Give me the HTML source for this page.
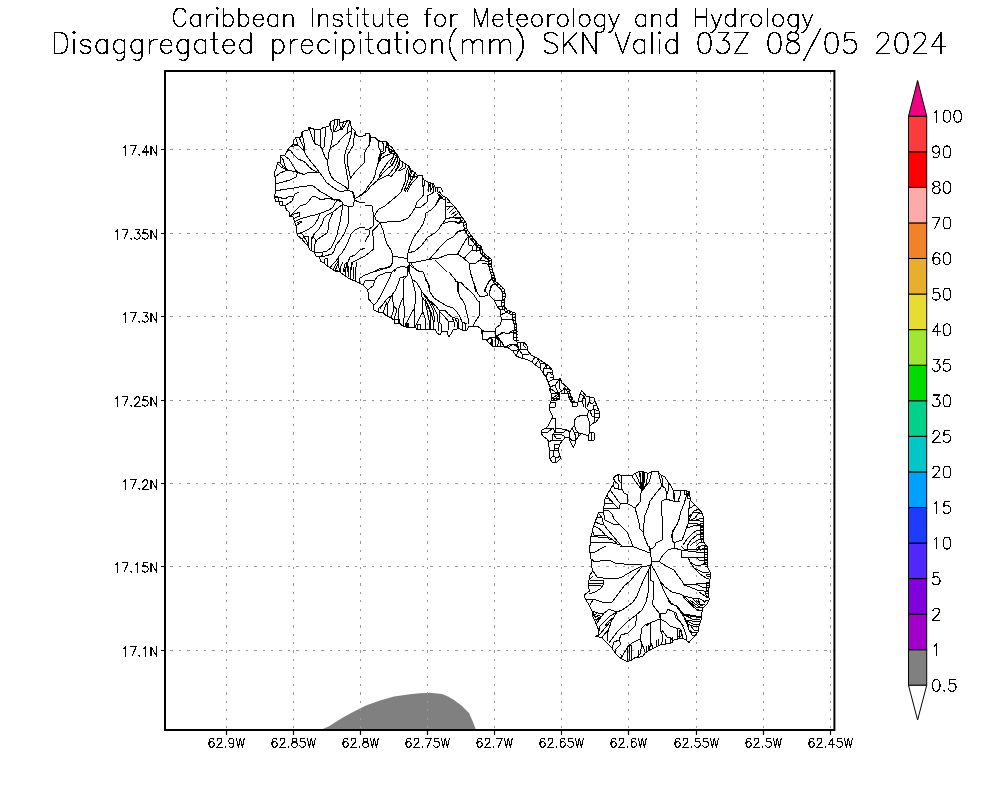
<!DOCTYPE html>
<html><head><meta charset="utf-8"><title>Disaggregated precipitation SKN</title>
<style>html,body{margin:0;padding:0;background:#fff;font-family:"Liberation Sans",sans-serif}svg{display:block}</style></head>
<body>
<svg width="1000" height="800" viewBox="0 0 1000 800">
<rect width="1000" height="800" fill="#fff"/>
<polygon points="320.5,730.0 329.0,726.3 342.0,718.0 352.0,712.5 366.0,705.5 380.0,700.6 394.0,696.6 410.0,694.2 420.0,693.3 430.0,692.8 442.0,694.0 448.0,696.5 454.0,700.0 462.0,706.0 469.0,713.0 473.0,722.0 476.0,730.0" fill="#808080"/>
<path d="M226.5 72.0V730.0M293.5 72.0V730.0M360.5 72.0V730.0M427.5 72.0V730.0M494.5 72.0V730.0M561.5 72.0V730.0M628.5 72.0V730.0M696.5 72.0V730.0M763.5 72.0V730.0M830.5 72.0V730.0" fill="none" stroke="#989898" stroke-width="1" stroke-dasharray="2.2 6.19" stroke-dashoffset="0.43" shape-rendering="crispEdges"/>
<path d="M166.0 149.5H834.4M166.0 233.5H834.4M166.0 316.5H834.4M166.0 400.5H834.4M166.0 483.5H834.4M166.0 566.5H834.4M166.0 650.5H834.4" fill="none" stroke="#989898" stroke-width="1" stroke-dasharray="2.4 5.98" stroke-dashoffset="3.9" shape-rendering="crispEdges"/>
<path d="M294.0 144.2L298.0 145.0L295.5 137.8M299.5 138.2L301.0 142.0L303.5 147.0L304.0 151.2M302.0 132.2L303.0 138.0L304.5 145.0L304.0 151.2M290.5 146.7L298.0 145.2L303.8 150.8L307.0 156.5L312.0 163.0L317.0 169.0L319.8 173.0M309.2 127.8L311.0 134.0L313.0 140.0L315.0 144.0L319.5 145.5L321.5 148.0L323.0 152.0L325.0 157.0L327.0 160.0L327.5 164.0L329.0 171.0L331.0 176.0L334.0 180.0L339.0 183.0L344.0 186.0L348.0 189.0M315.0 129.7L314.5 137.0L314.0 142.0L316.5 144.8M320.0 130.2L320.5 135.0L320.0 141.0L321.0 146.5M325.0 127.7L325.0 137.0L324.8 146.5L322.2 148.5M330.5 129.5L332.0 132.0L332.5 138.0L331.5 143.0L330.0 149.0L328.5 153.0L328.0 159.0L327.5 164.0M330.0 149.0L331.0 147.5L337.0 144.0L341.0 139.0L346.0 134.0L350.0 131.5M330.5 122.2L330.0 126.0L332.0 132.0M334.5 119.8L334.0 125.0L333.0 132.0M337.0 120.0L337.5 125.0L334.2 131.2M339.5 120.0L339.5 125.0L341.0 129.0L335.0 132.0M344.0 121.7L342.0 127.0L341.0 129.0M347.5 120.7L345.0 125.0L342.0 129.5M350.0 121.2L348.0 127.0L347.0 133.0M352.0 128.7L351.0 135.0L349.0 142.0L346.0 150.0L344.5 156.0L345.0 164.0L346.5 172.0L348.0 180.0L348.0 189.0M355.0 131.7L354.0 138.0L353.0 146.0L348.0 154.0L347.0 157.0L347.5 164.0L350.0 176.0L350.0 179.0M350.0 179.0L355.0 172.0L360.0 167.0L365.0 162.0M286.5 151.7L290.0 150.0L294.0 155.0L298.0 159.0L303.0 161.0L306.0 163.0L309.0 167.0L313.0 170.0L317.0 172.0L319.8 173.0L323.0 177.0L326.0 182.0L331.0 186.0L337.0 190.0L341.0 192.0M285.0 156.2L289.0 159.0L292.0 164.0L295.0 169.0L297.5 172.3M297.5 172.3L304.0 174.5L308.0 172.5L313.0 172.0L318.0 172.5L319.8 173.0M297.5 172.3L296.0 177.0L290.0 180.0L283.0 182.0L275.5 184.0M275.0 177.0L280.0 173.0L285.0 171.0L290.0 170.5L297.5 172.3M277.5 163.2L281.0 167.0L285.0 169.0L289.0 170.2M280.0 162.2L282.5 166.0L287.0 169.5M280.5 156.2L283.5 160.0L284.5 165.0L286.5 168.8M275.5 191.0L283.0 189.5L291.0 188.5L299.0 187.0L305.0 186.5L312.0 185.0L317.0 189.0L321.0 192.0M369.5 133.7L370.0 139.0L369.0 144.0M371.0 137.2L369.5 145.0L367.0 148.0L365.0 152.0M378.0 140.7L378.5 147.0L381.0 152.0L379.0 157.0L378.5 162.0L376.0 170.0L375.0 175.0L373.0 180.0L369.0 185.0L366.0 190.0M382.5 142.2L384.0 146.0L383.0 151.0L381.0 152.0M386.5 141.7L386.0 147.0L385.0 152.0L382.0 154.0L380.0 157.0L379.0 162.0M389.0 145.2L388.0 150.0L390.5 152.0M392.5 148.2L390.0 154.0L385.0 156.0L381.0 159.0L379.0 162.0M395.0 152.2L393.0 157.0L388.0 162.0L384.0 168.0L380.0 174.0L379.0 178.0L377.0 181.0L371.0 186.0L367.0 191.0M397.0 155.2L395.0 160.0L391.0 166.0L388.0 168.0L383.0 173.0L380.0 177.0M398.0 156.2L397.0 162.0L394.0 168.0L390.0 173.0L388.0 175.0L378.0 180.0L371.0 186.0M400.0 160.2L399.0 166.0L395.0 172.0L391.0 176.5L388.5 175.0M403.0 162.7L402.0 167.0L399.0 170.0M406.0 164.2L405.0 168.0L401.0 170.0L398.5 170.5M409.0 166.7L407.0 170.0L405.5 176.0L405.0 182.0L403.0 187.0L401.0 192.0M411.0 170.2L409.5 174.0L408.0 180.0L406.0 186.0L404.0 191.0M415.0 172.7L414.0 177.0L410.0 182.0L408.0 187.0L405.0 192.0M418.0 176.2L416.0 179.0L412.0 183.0L409.0 188.0L407.0 192.0M422.0 175.7L422.5 182.0L423.0 187.0L423.0 192.0M424.0 180.2L425.0 184.0L423.0 187.0M428.0 182.2L429.0 187.0L428.0 192.0M433.0 183.7L432.0 188.0L430.0 192.0M435.0 187.2L435.0 192.0M274.5 196.5L278.0 197.0L285.0 199.0L289.0 196.5L293.5 197.0M275.5 197.5L278.5 198.0L278.5 201.5M279.5 201.5L282.5 202.0L282.5 205.0M285.0 205.5L289.0 203.0L292.0 201.0L293.5 197.0L295.0 194.0L299.0 192.0M289.5 216.2L295.0 211.0L300.0 206.0L306.0 204.0L309.0 201.0L312.0 197.0L315.0 196.5L319.0 198.5L321.0 200.0L328.0 198.0L335.0 200.5M289.5 216.5L295.0 213.5L300.0 212.5L299.5 216.0L294.0 218.5M294.5 222.0L300.0 219.0L305.0 217.5L310.0 216.0L315.0 215.0L320.0 213.5L325.0 211.5L330.0 209.5L333.0 207.0L335.0 203.0L337.0 200.5L341.0 201.5M296.0 225.7L301.5 222.0L302.0 221.0L298.0 222.5M320.0 213.5L318.0 219.0L315.0 224.0L312.0 227.0L307.0 230.0L303.0 232.0L298.0 233.5M343.0 204.5L339.0 207.0L333.0 212.0L327.0 215.0L324.0 218.0L322.0 224.0L319.0 229.0L315.0 233.0L313.0 236.0L312.0 239.0M333.0 212.0L331.0 217.0L328.0 224.0L328.0 230.0L327.0 233.0L321.0 237.0L317.0 240.0L315.0 244.0L314.0 252.0M343.0 205.0L341.5 212.0L340.5 220.0L338.5 228.0L337.0 235.0L334.0 242.0L331.0 248.0L327.0 251.0L321.0 252.5L314.0 252.0M348.0 206.5L348.5 215.0L348.0 224.0L345.0 232.0L341.0 239.0L336.0 245.0L334.0 251.0L332.0 254.0L325.0 256.0L319.5 257.0M365.0 228.0L360.0 227.5L355.0 230.0L351.0 234.0L348.0 242.0L345.0 248.0L342.0 253.0L339.0 256.0L338.5 261.0L339.0 268.0L340.0 272.0M365.0 248.0L360.0 250.0L355.0 255.0L350.0 257.0L348.0 262.0L346.0 267.0L344.0 272.0M365.0 256.0L359.0 259.0L353.0 262.0L351.0 267.0L350.0 272.0M298.0 233.5L302.0 234.0L304.0 236.5L302.2 239.0M305.0 236.0L309.0 237.0L308.0 246.0M304.0 236.5L307.0 242.0L308.0 246.0M312.0 237.0L311.5 245.0L312.0 251.0M313.0 236.0L316.0 241.0L314.5 246.0L314.0 252.0M319.5 257.0L323.0 255.0L322.0 253.0M324.0 263.0L325.0 259.0L327.5 258.5L327.0 266.0M330.0 267.5L335.0 262.0L338.5 258.0M333.0 270.0L336.0 264.0L338.5 261.0M335.0 271.0L337.5 265.0M343.0 272.0L345.0 264.0L348.0 262.0M347.0 272.0L348.0 264.0M321.0 192.0L325.0 194.0L329.0 196.5L335.0 200.0L339.0 199.5L342.0 202.0L343.0 204.5L348.0 206.5L353.0 206.0L354.0 202.0L354.0 198.0L353.0 192.0M354.0 200.0L359.0 202.0L365.0 203.0M401.0 192.0L398.0 195.0L392.0 200.0L385.0 206.0L379.0 209.0L376.0 213.0L374.5 216.0L376.0 220.0L380.0 222.8M365.0 205.0L372.0 206.0L373.0 212.0L374.0 216.0L373.8 225.5L369.0 229.2L365.0 229.8M380.0 223.0L377.0 226.5L372.5 230.8L373.5 240.0L373.5 249.0L369.0 253.0L365.0 256.0M369.0 229.5L369.5 234.0L367.0 238.0L365.0 242.0M380.0 223.0L387.0 222.0L394.0 221.5L400.0 221.5L408.0 218.0L412.0 213.0L415.0 208.0L417.0 202.0L422.0 197.0L424.0 194.0L423.0 192.0M415.0 208.0L421.0 207.0L427.0 202.0L427.5 196.0L431.0 194.0L434.0 192.0M380.0 223.0L383.0 230.0L385.0 238.0L387.0 244.0L391.0 250.0L393.0 256.0L398.0 257.0L407.0 258.5M393.0 256.0L392.5 262.0L390.0 267.0L383.0 269.0L377.0 271.0L374.0 272.0M407.5 258.5L408.0 253.0L410.0 246.0L413.0 239.0L416.0 234.0L420.0 229.0L423.0 224.0L425.0 218.0L426.0 213.0L431.0 210.0L435.0 206.0L439.0 200.0L442.0 196.0M408.0 253.0L415.0 251.0L421.0 246.0L425.0 241.0L428.0 237.0L435.0 233.0L439.0 229.0L442.0 224.0L448.0 222.0L455.0 221.0M407.5 258.5L408.0 262.0L411.0 263.0L421.0 261.0L429.0 259.5L435.0 253.0L441.0 246.0L447.0 240.0L453.0 237.0L458.0 232.0L463.0 230.0L465.0 229.0M429.0 259.5L439.0 258.0L448.0 254.5L457.5 254.0L461.0 248.0L465.0 241.0M457.5 254.0L461.0 256.5L465.0 258.0M435.0 260.0L440.0 265.0L445.0 270.0L447.0 272.0M411.0 263.0L414.0 268.0L419.0 271.0M410.0 263.0L408.0 268.0L408.0 272.0M407.0 268.0L403.0 266.0L397.0 268.0L394.0 272.0M445.0 198.0L445.0 204.0L445.0 212.0L446.0 219.0L442.0 224.0L441.0 226.0M446.0 219.0L453.0 217.0L461.0 218.0M447.0 210.0L451.0 206.0M449.0 213.0L454.0 208.0M451.0 215.0L456.0 211.0M453.0 217.0L458.0 213.0M447.0 202.0L450.0 202.5M446.0 206.0L453.0 207.0M455.0 221.0L459.0 224.0L461.0 219.0M435.0 206.0L437.0 202.0L440.0 197.0L439.5 195.0M467.0 230.0L459.0 231.0L455.0 234.0M468.0 237.0L465.0 241.0L461.0 248.0L458.0 254.0L455.0 254.5M458.0 254.0L464.0 258.5L469.0 263.0L476.0 263.0L480.0 260.0M464.0 258.5L468.0 254.0L472.0 250.0L477.0 251.0L481.0 250.0M469.0 263.0L470.0 270.0L472.0 277.0L474.0 284.0L475.5 292.0M493.0 278.0L489.0 282.0L486.0 287.0L484.0 292.0M495.0 284.0L492.0 285.0L490.0 290.0L489.5 292.0M455.0 281.0L458.0 282.0L461.0 283.0L465.0 287.0L470.0 291.0M458.0 282.0L458.0 292.0M468.0 237.0L469.0 245.0L472.0 246.0L472.0 251.0M470.0 239.0L475.0 240.0L477.0 245.0L476.0 252.0M472.0 247.0L476.0 243.0M480.0 246.0L481.0 250.0M483.0 252.0L482.0 257.0L480.0 260.0L485.0 261.0L490.0 261.0M484.0 256.0L489.0 259.0M482.0 263.0L487.0 264.0L491.0 264.0M455.0 218.0L460.0 219.0L462.0 217.0M455.0 222.0L461.0 222.0L465.0 223.0M359.0 283.0L360.0 278.0L365.0 275.0L373.0 272.0L379.0 269.0L385.0 268.0L391.0 266.0L393.0 262.0M363.0 285.0L365.0 281.0L370.0 280.0L375.0 280.0L378.0 276.0L385.0 273.0L392.0 272.0L397.0 268.0L403.0 266.0L407.0 268.0L409.0 265.0M375.0 280.0L373.0 286.0L369.0 289.0L367.0 289.0M392.0 272.0L389.0 279.0L385.0 287.0L381.0 295.0L377.0 302.0L374.0 305.0M407.0 268.0L407.0 276.0L400.0 278.0L398.0 284.0L395.0 291.0L392.0 295.0L387.0 299.0L383.0 304.0L380.0 309.0M392.0 295.0L393.0 302.0L394.0 306.0L397.0 310.0L395.0 316.0L394.0 320.0M407.0 276.0L404.0 279.0L403.5 288.0L403.0 298.0L401.0 302.0L399.0 308.0L398.5 318.0L399.0 323.0M403.0 298.0L404.0 306.0L404.0 318.0L403.0 326.0M409.0 265.0L409.0 271.0L412.0 279.0L414.0 287.0L416.0 295.0L415.5 302.0L414.0 309.0L411.0 314.0L407.0 322.0L405.0 326.0M414.0 309.0L414.0 318.0L415.0 327.0M412.0 279.0L417.0 283.0L421.0 290.0L422.0 297.0L422.0 305.0L423.0 312.0L420.0 317.0L417.0 323.0L415.0 327.0M423.0 312.0L425.0 318.0L425.0 329.0M409.0 265.0L414.0 268.0L418.0 271.0L423.0 272.0L426.0 279.0L429.0 285.0L430.0 292.0L433.0 297.0L435.0 299.0M422.0 292.0L426.0 297.0L430.0 302.0L435.0 306.0M422.0 297.0L427.0 304.0L430.0 312.0L431.0 322.0L430.0 329.0M424.0 295.0L429.0 302.0L433.0 310.0L435.0 322.0M378.0 312.0L379.0 308.0L382.0 305.0M383.0 313.0L385.0 307.0L387.0 302.0M387.0 316.0L387.0 310.0L388.0 303.0L392.0 295.0M391.0 318.0L393.0 312.0L394.0 306.0M340.0 272.0L341.0 266.0L343.0 262.0M345.0 276.0L346.0 268.0L348.0 262.0M350.0 279.0L351.0 270.0L352.0 262.0M355.0 281.0L355.0 272.0L357.0 262.0M348.0 277.0L349.0 266.0M353.0 280.0L353.5 268.0M394.0 319.0L399.0 319.0L399.0 323.0M405.0 323.0L408.0 323.0L408.0 327.0M406.0 323.5L406.0 327.0M407.0 323.5L407.0 327.0M416.0 324.0L420.0 324.0L420.0 329.0M417.0 325.0L417.0 329.0M449.0 272.0L453.0 277.0L457.0 282.0L461.0 282.0L465.0 287.0L469.0 290.0L474.0 295.0L477.0 300.0L479.5 302.0L480.0 310.0L479.5 315.0L477.0 319.0L474.0 324.0L473.0 326.0M458.0 282.0L457.5 290.0L460.0 297.0L463.0 301.0L465.0 305.0L466.5 312.0L468.0 318.0L469.0 324.0M470.0 272.0L472.0 278.0L475.0 286.0L477.0 292.0L480.0 297.0L485.0 296.0L488.0 295.0L485.0 290.0L487.0 285.0L490.0 280.0L494.0 278.0M489.0 295.0L491.0 286.0L494.0 284.0L498.0 284.5M489.0 295.0L494.0 300.0L497.0 306.0L500.0 310.0L500.0 315.0L502.0 319.0L500.0 325.0L496.0 328.0L495.0 334.0L497.0 336.0L503.0 332.0L507.0 334.0L512.0 331.0L516.0 329.0M495.0 301.0L499.0 300.5L504.0 300.0M497.0 306.0L504.0 306.0M500.0 315.0L505.0 313.0L508.0 311.0M502.0 319.0L514.0 319.0M500.0 310.0L504.0 309.0M495.0 332.0L484.0 331.0L482.0 330.0M495.0 334.0L495.0 347.0M497.0 336.0L500.0 340.0L504.0 346.0M495.0 337.0L489.0 338.0L487.0 341.0M491.0 338.0L492.0 345.0M499.0 341.0L497.0 346.5M505.0 347.5L509.0 345.0L513.0 344.0L516.0 346.0L518.0 342.0M425.0 279.0L428.0 284.0L430.0 292.0L434.0 298.0L440.0 302.0L447.0 306.0L453.0 308.0L457.0 312.0L460.0 317.0L462.0 322.0L467.0 324.0M425.0 295.0L429.0 300.0L435.0 305.0L439.0 310.0L445.0 310.0L448.0 314.0L452.0 317.0L458.0 319.0L459.0 328.0M425.0 299.0L428.0 305.0L431.0 312.0L433.0 320.0L433.0 329.0M425.0 302.0L427.0 310.0L429.0 320.0L429.0 329.0M430.0 301.0L434.0 308.0L437.0 314.0L438.0 322.0L438.0 331.0M439.0 310.0L439.0 322.0L441.0 324.0L441.5 331.0M440.0 312.0L445.0 317.0L448.0 321.0L448.0 330.0M452.0 317.0L454.0 322.0L454.0 327.0M455.0 319.0L457.0 322.0L457.0 328.0M448.0 321.0L453.0 321.0M462.0 322.0L462.0 330.0M465.0 324.0L465.0 330.0M481.0 332.0L488.0 331.5L495.0 332.0L496.0 328.0L500.0 325.0M495.0 332.0L495.0 337.0L495.0 347.0M495.0 337.0L504.0 332.5L507.0 334.0L513.0 332.0L516.0 332.0M486.0 340.0L491.0 338.0L495.0 337.0M490.0 344.0L493.0 339.0M492.0 339.0L492.0 345.0M495.0 337.0L499.0 340.0L502.0 342.0L504.0 346.0M499.0 340.0L497.5 346.5M501.0 342.0L500.0 346.5M508.0 348.0L512.0 344.5L515.0 344.0L519.0 349.0L517.0 342.0M513.0 351.0L519.0 349.5L524.0 349.0L527.0 349.0M519.0 349.5L522.0 354.0L523.0 358.5M516.0 356.0L519.0 349.5M522.0 354.0L529.0 355.0M524.0 342.0L523.0 345.0L526.0 348.0M520.0 343.0L520.0 349.0M532.0 362.0L535.0 357.0M535.0 365.0L539.0 359.5M537.0 358.0L540.0 363.0L540.0 368.0M540.0 363.0L545.0 363.5L547.0 369.0M543.0 373.0L544.0 368.0L547.0 365.0M544.0 368.0L550.0 369.0L552.0 370.0M546.0 377.0L548.0 372.0L553.0 375.0M548.0 382.0L554.0 379.0M550.0 387.0L555.0 385.0L559.0 380.0M551.0 393.0L558.0 393.0L562.0 391.0L566.0 386.0M555.0 385.0L558.0 393.0M559.0 380.0L560.0 389.0L562.0 391.0M558.0 393.0L560.0 399.0L552.0 398.0M552.0 401.0L560.0 395.0M516.0 331.0L518.0 331.0M516.0 334.0L518.0 334.5M516.0 337.0L518.0 337.5M516.5 340.0L519.0 340.5M549.0 372.0L553.0 373.0M550.0 377.0L554.0 377.0M565.0 389.0L570.0 390.0M567.0 393.0L571.0 394.0M568.0 397.0L572.5 398.0M549.0 388.0L551.0 393.0L552.0 398.0L550.5 402.0L549.0 407.0L550.0 411.0L552.0 415.0L552.0 418.0L550.0 422.0L548.0 426.0L546.0 428.0L542.0 430.0L541.5 434.0L544.0 437.0L547.0 439.0L549.0 442.0L548.5 446.0L550.0 450.0L549.0 455.0L550.0 459.0L552.0 462.0L557.0 462.0L560.0 459.0L560.0 456.0L558.5 452.0L559.0 447.0L560.0 444.0L562.0 441.0L564.0 439.0L565.0 437.0L569.0 437.0L570.0 441.0L572.0 445.0L573.5 447.5L575.0 444.0L576.0 440.0L579.0 436.0L581.0 433.5L585.0 434.5L588.0 436.0L588.0 440.0L594.0 440.0L595.0 436.0L594.0 433.0L590.0 432.0L589.5 426.0L592.0 424.0L596.0 422.0L599.0 418.0L600.0 415.0L599.0 411.0L597.0 406.0L595.0 401.0L594.0 398.0L590.0 397.0L586.0 396.0L583.0 392.0L581.5 390.5L580.0 394.0L579.0 398.0L578.0 402.0L577.5 406.0L573.0 406.5L572.5 402.0L571.0 398.0L570.0 394.0L569.0 390.0L568.0 388.0M552.0 418.0L555.0 418.0L555.0 432.0M555.0 428.0L562.0 429.0L567.0 430.0L570.0 432.0L572.0 428.0L574.5 426.0L574.5 420.0L577.0 417.0L582.0 415.0L587.0 415.0L589.0 411.0L594.0 409.5L599.0 411.0M587.0 415.0L589.0 421.0L589.5 426.0M574.5 426.0L576.0 430.0L579.0 433.0L581.0 433.5M570.0 432.0L569.0 437.0M572.0 428.0L574.0 432.0L576.0 437.0L575.0 444.0M574.0 432.0L578.0 432.0L579.0 436.0M569.0 437.0L572.0 441.0L575.0 440.0M546.0 428.0L553.0 428.0L555.0 432.0L553.0 434.0L552.0 440.0L549.0 442.0M553.0 434.0L560.0 434.0L564.0 436.0L565.0 437.0M555.0 432.0L562.0 433.0L567.0 430.0M552.0 440.0L560.0 440.0L562.0 441.0M541.5 432.0L548.0 432.0L553.0 428.0M554.0 435.0L556.0 438.0L561.0 439.0M554.0 444.0L554.0 450.0L559.0 451.0M554.0 444.0L560.0 444.0M550.0 450.0L554.0 450.0L553.0 456.0L550.0 459.0M555.0 448.0L559.0 448.0M553.0 456.0L557.0 458.0L560.0 456.0M555.0 458.0L555.0 462.0M551.0 393.0L559.0 393.0L560.0 398.0L552.0 398.0M550.0 388.0L555.0 392.0L559.0 393.0M552.0 398.0L559.0 394.0M553.0 401.0L560.0 399.0M550.5 402.0L555.0 402.0L555.0 407.0L549.0 407.0M564.0 388.0L564.0 393.0L569.0 393.0M561.0 393.0L564.0 393.0M572.5 402.0L577.5 402.0M580.0 394.0L584.0 396.0L582.0 401.0L579.0 402.0M584.0 396.0L586.0 401.0L585.0 407.0L589.0 411.0M582.0 401.0L584.0 406.5M590.0 397.0L589.0 402.0L592.0 404.0L595.0 401.0M589.0 402.0L587.0 407.0M594.0 409.5L593.0 405.0L597.0 406.0M594.0 409.5L594.0 422.0L592.0 424.0M594.0 413.0L599.0 413.0M594.0 417.0L599.0 418.0M590.0 411.0L592.0 416.0L594.0 417.0M588.0 436.0L590.0 432.0M591.0 433.0L591.0 440.0M619.0 474.5L618.5 480.0L621.0 483.0L621.5 475.5M614.5 481.0L618.0 484.0L618.0 489.0L622.0 489.5L621.0 483.0M613.0 485.0L614.5 488.0L618.0 489.0M622.0 489.5L624.0 493.0L627.5 495.0L627.5 503.5L621.0 504.0L618.0 501.0L614.0 495.0L610.0 490.0M627.5 503.5L635.0 508.0L640.0 502.0L640.0 495.0L642.0 491.0M642.0 491.0L639.0 486.0L635.0 481.0L632.0 476.0M642.0 491.0L640.0 484.0L637.0 477.0L635.5 473.5M642.0 491.0L641.0 482.0L639.0 472.0M642.0 491.0L642.5 481.0L642.0 472.0M642.0 491.0L644.0 483.0L645.0 473.0M642.0 491.0L646.0 484.0L648.0 474.0M642.0 491.0L649.0 482.0L652.0 472.0M640.5 486.0L640.0 473.0M643.2 486.0L643.5 473.0M658.0 471.5L660.0 479.0L662.0 486.0L657.0 492.0L654.0 496.0L650.0 501.0L648.0 508.0L645.0 515.0L644.0 523.0L643.0 530.0L644.0 536.0L646.0 541.0L648.0 546.0M661.0 475.0L663.0 481.0L662.0 486.0M635.0 508.0L637.0 515.0L639.0 523.0L640.0 529.0L643.0 532.0M662.0 486.0L665.0 488.0L667.0 494.0L666.0 499.0L662.0 501.0L661.0 508.0L662.0 516.0L663.0 522.0L662.0 528.0L663.0 534.0L662.0 540.0L656.0 543.0L655.0 546.0M666.0 499.0L673.0 501.0L680.0 502.0M668.0 482.0L668.0 491.0L667.0 494.0M673.0 490.0L674.0 499.0M680.0 515.0L679.0 520.0L676.0 526.0L672.0 534.0L672.0 540.0L674.0 543.0L675.0 546.0M605.0 499.0L609.0 498.0L614.0 504.0L619.0 509.0L619.5 506.0L621.0 504.0M604.5 504.0L611.0 503.5L614.0 504.0M603.5 508.0L610.0 508.0L619.0 509.0M607.0 495.0L610.0 501.0M603.5 512.0L605.0 520.0L613.0 524.0L620.0 525.0L622.0 527.0L627.0 532.0L630.0 539.0L633.0 546.0M603.5 510.0L609.0 511.0L612.0 514.0L614.0 519.0L618.0 523.0L622.0 527.0M598.5 513.0L602.0 518.0L604.0 525.0L608.0 530.0L613.0 536.0L618.0 542.0L622.0 546.0M595.0 522.0L600.0 524.0L604.0 525.0M593.5 526.0L598.0 528.0L602.0 531.0L605.0 535.0L610.0 538.0L617.0 543.0M592.5 531.0L594.0 535.0L605.0 536.0M591.0 536.0L598.0 537.0L606.0 537.0L611.0 540.0M590.0 542.0L596.0 543.0L603.0 542.0L610.0 542.0L620.0 545.0M597.0 517.0L602.0 518.0M673.5 490.5L674.5 496.0L674.0 501.0L678.0 501.0L680.0 496.0L681.0 491.0M687.0 491.0L686.0 497.0L684.0 504.0L681.0 511.0L679.0 519.0L677.0 525.0L673.0 530.0L671.5 536.0L673.0 541.0L675.0 545.0M690.0 501.0L689.0 508.0L688.0 516.0L688.5 523.0L686.0 529.0L684.0 535.0L682.0 540.0L675.0 542.5M695.0 505.0L690.0 508.0L689.0 508.0M699.0 509.0L694.0 511.0L691.0 516.0L689.0 520.0M702.0 513.0L698.0 514.0L695.0 518.0L690.0 520.5M703.5 518.0L699.0 519.0L696.0 520.0M689.0 520.0L696.0 520.0L700.0 521.0L703.5 521.0M689.0 523.0L696.0 523.5L703.0 526.0M703.0 530.0L697.0 530.0L692.0 534.0L687.0 539.0L683.0 545.0M703.0 534.0L697.0 535.0L691.0 540.0L687.0 546.0M703.0 538.0L698.0 540.0L693.0 543.0L690.0 546.0M704.0 542.0L699.0 543.0L696.0 546.0M687.0 494.0L690.0 494.5M684.0 491.0L684.0 494.0L687.0 494.5M700.0 527.0L703.0 527.0M700.0 532.0L703.0 532.0M700.0 536.0L703.0 536.0M649.0 546.0L650.0 551.0L651.0 557.0L652.0 562.0M620.0 546.0L634.0 547.0L642.0 550.0L650.0 553.0M652.0 562.0L659.0 561.5L663.0 555.0L668.0 550.0L674.0 548.0L680.0 550.0M659.0 561.5L666.0 566.0L674.0 570.0L678.0 576.0L680.0 578.0M652.0 566.0L656.0 573.0L660.0 581.0L665.0 587.0L672.0 592.0L680.0 594.0M660.0 581.0L663.0 589.0L667.0 597.0L671.0 603.0L676.0 606.0L680.0 611.0M652.0 562.0L650.0 567.0L650.0 580.0L653.5 582.0L654.0 596.0L652.0 604.0L656.0 609.0L659.0 613.0L660.0 618.0L660.0 626.0M660.0 614.0L666.0 613.0L668.0 609.0L674.0 612.0L676.0 618.0L680.0 622.0M660.0 619.0L666.0 622.0L670.0 626.0M660.0 619.0L652.0 622.0L646.0 626.0M649.0 571.0L648.0 581.0L648.0 593.0L646.0 602.0L642.0 610.0L636.0 615.0L627.0 622.0L623.0 626.0M650.0 567.0L644.0 579.0L640.0 588.0L637.0 596.0L633.0 602.0L628.0 606.0L622.0 610.0L617.0 612.0L609.0 609.5L604.0 613.0L597.0 623.0M652.0 565.0L642.0 567.0L636.0 574.0L630.0 581.0L624.0 586.0L619.0 593.0L612.0 602.0L603.0 602.5L596.0 600.0L589.0 599.0M642.0 564.0L632.0 564.5L624.0 564.0L615.0 563.0L610.0 560.5L600.0 561.0L595.0 562.0L591.0 559.0M642.0 566.0L634.0 570.0L627.0 574.0L622.0 577.0L616.0 579.0L603.0 578.0L597.0 577.0L593.0 571.0M603.0 580.5L604.0 584.0L600.0 589.0L595.0 592.0L589.5 594.0M589.0 583.0L603.0 583.0M589.5 586.0L601.0 585.5M590.0 579.0L593.0 576.0M590.0 581.0L603.0 580.5M590.0 553.0L595.0 552.0L602.0 548.0L606.0 546.0M617.0 612.0L614.0 617.0L607.0 623.0L605.0 626.0M637.0 615.0L636.0 621.0L635.0 626.0M592.0 611.0L598.0 613.0L604.0 614.0M594.0 617.0L600.0 615.0M595.0 620.0L602.0 616.0M585.5 600.0L590.0 599.0L593.0 600.0L590.0 605.0M674.0 548.0L681.0 550.0L681.0 557.0L688.0 557.0L696.0 557.0L706.0 557.0M681.0 550.0L688.0 551.0L696.0 552.0L707.0 553.0M688.0 557.0L690.0 562.0L695.0 565.0L701.0 565.0L706.0 563.0M690.0 562.0L694.0 568.0L700.0 574.0L706.0 578.0L709.0 579.0M696.0 557.0L700.0 561.0L706.0 560.0M694.0 568.0L702.0 572.0L709.0 573.0M678.0 576.0L682.0 581.0L684.0 585.0L690.0 587.0L697.0 590.0L704.0 591.0L708.0 592.0M684.0 584.0L696.0 584.0L709.0 583.5M696.0 584.0L702.0 587.0L709.0 588.0M699.0 592.0L705.0 596.0L709.0 598.0M680.0 594.0L684.0 596.0L692.0 598.0L700.0 599.0L706.0 602.0M682.0 595.0L686.0 600.0L692.0 605.0L697.0 610.0L702.0 611.0M684.0 596.0L690.0 602.0L696.0 607.0L701.0 608.0M692.0 598.0L698.0 604.0L703.0 606.0M698.0 599.0L700.0 604.0M680.0 611.0L684.0 614.0L690.0 615.0L696.0 616.0L701.0 616.0M678.0 607.0L682.0 613.0L685.0 619.0L688.0 624.0L692.0 626.0M680.0 611.0L683.0 616.0L687.0 621.0L693.0 624.0L699.0 625.0M684.0 614.0L692.0 619.0L700.0 620.0M680.0 622.0L684.0 626.0M681.0 546.0L685.0 550.0L696.0 549.0L700.0 546.0M696.0 549.0L704.0 550.0L707.0 549.0M688.0 551.0L687.0 546.0M704.0 559.0L707.0 559.5M704.0 562.0L707.0 562.5M705.0 566.0L708.0 567.0M706.0 574.0L710.0 574.5M706.5 576.0L710.2 576.5M706.0 596.0L709.0 596.0M705.0 600.0L708.0 600.5M617.0 612.0L614.0 617.0L611.0 622.0L609.0 628.0L607.0 635.0L607.0 641.0M617.0 612.0L610.0 616.0L604.0 622.0L600.0 626.0L599.0 631.0M604.0 614.0L600.0 618.0L596.0 621.0M610.0 622.0L605.0 628.0L600.0 634.0L597.0 636.0M611.0 624.0L608.0 630.0L603.0 636.0L602.0 637.5M623.0 626.0L617.0 632.0L612.0 639.0L609.0 643.0M635.0 626.0L632.0 629.0L628.0 633.0L621.0 635.0L619.0 640.0L614.0 642.0L612.0 648.0M619.0 640.0L621.0 644.0L616.0 649.0L615.0 653.0M660.0 619.0L652.0 622.0L645.0 625.0L642.0 628.0L641.0 634.0L640.0 639.0L634.0 642.0L629.0 645.0L626.0 650.0L623.0 655.0L621.0 658.0M660.0 613.0L660.0 619.0L660.0 629.0L662.0 634.0L663.0 640.0L661.0 644.0M650.0 623.0L650.0 630.0L650.0 638.0L651.0 643.0L649.0 650.0M640.0 639.0L642.0 644.0L644.0 649.0L645.0 652.0M629.0 645.0L631.0 645.0L631.0 660.0M627.0 648.0L627.0 661.0M629.0 646.0L629.0 660.0M639.0 650.0L638.0 657.0M642.0 644.0L640.0 654.0L637.0 657.5M660.0 619.0L666.0 622.0L670.0 626.0L676.0 628.0L680.0 629.0M662.0 630.0L667.0 637.0L671.0 638.0L673.0 642.0M646.0 646.0L646.0 652.0M648.0 645.0L649.0 650.0M651.0 643.0L653.0 648.0M656.0 640.0L657.0 646.0M658.0 639.0L659.0 645.5M665.0 639.0L665.5 643.5M670.0 638.0L670.5 643.0M677.0 630.0L677.5 639.0M679.0 630.0L679.0 638.5M620.0 654.0L622.0 656.0M593.0 612.0L593.5 616.0L597.0 613.0M595.0 618.0L599.0 615.0M668.0 600.0L671.0 604.0L677.0 606.0L680.0 611.0L683.0 614.0L685.0 620.0L687.0 624.0L689.0 630.0L692.0 635.0L695.0 636.0M667.0 609.0L672.0 611.0L676.0 613.0L678.0 619.0L681.0 623.0L684.0 629.0L686.0 635.0L687.0 640.0M680.0 629.0L682.0 634.0L683.0 638.5M677.0 629.0L677.0 636.0L681.0 636.0L681.0 630.0M679.0 630.0L679.0 636.0M683.0 614.0L690.0 616.0L696.0 617.0L701.0 618.0M685.0 620.0L692.0 621.0L700.0 621.5M687.0 624.0L693.0 626.0L699.0 626.5M688.0 625.0L689.0 630.0L693.0 633.0L697.0 632.0M690.0 625.0L694.0 630.0L698.0 631.0M684.0 615.0L692.0 619.0L700.0 620.0M686.0 600.0L691.0 605.0L696.0 609.0L701.5 611.0M690.0 600.0L695.0 604.0L700.0 607.0L703.0 608.0M696.0 600.0L700.0 604.0L705.0 605.0M702.0 600.0L705.0 603.0M670.0 638.0L670.5 643.0M672.0 637.0L672.5 642.5M665.0 639.0L665.5 644.0M366.0 190.0L363.0 193.0L358.0 197.0L354.0 199.0M367.0 191.0L363.0 194.0L359.0 196.5M365.0 152.0L364.8 162.0M348.0 189.0L347.0 190.0L352.0 191.5L354.0 195.5L354.0 199.0M341.0 192.0L345.5 190.5L347.0 190.0M648.0 546.0L650.1 548.0L651.1 548.7L650.8 551.1M655.0 546.0L653.6 547.6L651.1 548.7M675.0 546.0L674.0 548.0M275.5 192.0L275.0 184.0L275.0 177.0L274.5 172.0L276.5 168.0L277.5 163.0L280.0 162.0L280.5 156.0L285.0 155.0L286.5 151.5L290.0 147.0L294.0 144.0L293.5 141.0L296.0 137.5L299.5 138.0L301.5 136.0L302.0 132.0L305.5 130.5L308.0 130.0L309.0 127.5L312.0 128.5L315.0 129.5L320.0 130.0L322.5 128.0L325.0 127.5L329.0 126.0L330.5 122.0L334.5 119.5L339.5 119.8L340.0 123.0L344.0 121.5L347.5 120.5L350.0 121.0L350.5 125.0L352.0 128.5L355.0 130.5L355.5 134.5L360.0 137.0L365.0 135.5M365.0 135.5L365.0 133.5L369.5 133.5L371.0 137.0L375.0 137.5L378.0 140.5L382.5 142.0L386.5 141.5L389.0 145.0L392.5 148.0L395.0 152.0L398.0 156.0L400.0 160.0L403.0 162.5L406.0 164.0L409.0 166.5L411.0 170.0L415.0 172.5L418.0 176.0L422.0 175.5L424.0 180.0L428.0 182.0L433.0 183.5L435.0 187.0L441.0 188.0L443.0 192.0M275.5 192.0L274.5 197.0L275.5 201.0L279.0 202.0L279.5 205.0L285.0 205.5L286.5 210.0L289.0 212.0L289.5 216.5L293.0 217.0L294.5 222.0L296.0 226.0L296.5 232.0L298.0 236.0L302.0 239.0L305.0 243.0L308.0 246.0L310.0 250.0L314.0 252.0L316.0 256.0L319.5 257.0L320.5 261.0L324.0 263.0L327.0 266.0L330.0 267.5L333.0 270.0L337.0 272.0M439.5 192.0L443.0 196.0L447.0 198.0L450.0 202.0L454.0 206.0L457.0 210.0L460.0 214.0M458.0 212.0L462.0 217.0L466.0 223.0L467.0 229.0L470.0 234.0L474.0 239.0L478.0 244.0L481.5 247.0L483.0 252.0L487.0 256.0L491.0 259.0L491.0 264.0L492.5 270.0L494.5 277.0L496.0 281.0M335.0 270.0L340.0 272.0L345.0 276.0L350.0 279.0L355.0 281.0L359.0 283.0L363.0 285.0L367.0 289.0L368.5 294.0L368.5 299.0L373.0 304.0L374.0 310.0L378.0 312.0L383.0 313.0L387.0 316.0L391.0 318.0L394.0 320.0L394.0 323.0L399.0 323.0L403.0 326.0L407.0 327.5L415.0 327.0L417.0 329.5L423.0 329.0L430.0 329.0L435.0 329.0M435.0 329.5L437.0 333.0L440.0 335.0L442.0 331.0L447.0 331.0L448.5 337.0L451.0 334.0L453.0 330.0L459.0 328.5L462.0 330.0L467.0 330.0L469.0 326.0L474.0 326.0L478.0 326.5L482.0 330.0L482.5 334.0L482.0 339.0L485.0 339.0L489.0 343.0L494.0 347.0M494.0 277.0L496.0 282.0L500.0 285.0L504.0 289.0L505.5 295.0L504.5 301.0L504.0 306.0L507.0 310.0L512.0 312.0L515.0 313.0L515.5 320.0L516.5 326.0M517.0 325.0L516.5 331.0L516.0 337.0L517.0 342.0L520.0 343.0L524.0 342.0L527.0 346.0L528.0 351.0L531.0 355.0L537.0 358.0L543.0 362.0L549.0 366.0L552.0 370.0L553.0 375.0L554.0 379.0L559.0 380.0L560.0 378.0L562.0 383.0L566.0 386.0L570.0 390.0M481.0 329.0L482.0 334.0L482.0 339.0L486.0 340.0L490.0 344.0L494.0 347.0L500.0 346.5L505.0 346.0L508.0 348.0L513.0 351.0L516.0 356.0L521.0 358.0L527.0 359.5L532.0 362.0L535.0 365.0L540.0 368.0L543.0 373.0L546.0 377.0L548.0 382.0L550.0 387.0L551.0 393.0M590.0 546.0L590.0 542.0L591.0 536.0L592.5 531.0L593.5 526.0L595.0 522.0L597.0 517.0L598.5 513.0L603.0 512.0L603.5 508.0L604.5 504.0L605.0 499.0L607.0 495.0L610.0 490.0L613.0 485.0L614.5 481.0L613.5 478.0L616.0 475.5L619.0 474.5L621.0 475.5L626.0 476.0L632.0 475.5L635.0 473.5L639.0 471.5L644.0 472.0L648.0 473.5L652.0 471.5L658.0 471.5L661.0 475.0L665.0 477.0L668.0 482.0L671.0 486.0L673.0 490.0L680.0 490.0M680.0 490.5L687.0 491.0L689.5 492.0L690.0 497.0L691.0 501.0L695.0 505.0L699.0 509.0L702.0 513.0L703.5 518.0L703.5 524.0L703.0 530.0L703.0 536.0L704.0 542.0L706.0 546.0M706.0 545.0L707.0 546.0L707.5 552.0L707.0 559.0L707.0 566.0L710.0 572.0L710.5 577.0L709.0 582.0L709.0 588.0L708.0 593.0L709.0 598.0M709.0 598.0L709.0 600.0L707.0 604.0L703.0 608.0L701.5 614.0L701.0 620.0L699.0 626.0L698.0 632.0L695.0 636.0L692.0 639.0L689.0 642.5L686.0 640.0L683.0 638.5L678.0 639.0L674.0 640.0L671.0 643.0L666.0 644.0L660.0 645.0L656.0 647.0L650.0 650.0L645.0 653.0M586.0 600.0L589.0 605.0L592.0 611.0L593.0 617.0L595.0 621.0L597.0 626.0L599.0 631.0L598.0 635.0L596.0 636.5L602.0 637.5L605.0 641.0L609.0 645.0L612.0 648.0L615.0 653.0L619.0 657.0L623.0 659.5L627.0 661.5L632.0 660.0L635.0 657.5L640.0 657.0L643.0 656.0L645.0 653.0M589.5 546.0L590.0 553.0L591.0 559.0L591.5 566.0L593.0 571.0L590.0 575.0L589.0 580.0L588.5 586.0L589.5 591.0L584.0 595.0L585.5 600.0M379.0 155.0L381.5 154.0L380.0 160.0M379.5 156.0L380.0 162.0M386.5 141.7L388.5 147.0L390.0 151.0M387.0 143.0L389.5 149.0M385.0 146.0L391.0 150.0L394.0 152.0M389.0 152.0L394.0 154.0L396.0 156.0M394.0 156.0L392.0 160.0L390.0 164.0M396.0 157.0L394.0 162.0L392.0 166.0M398.0 159.0L396.0 164.0M399.0 162.0L397.0 168.0L395.0 171.0M409.5 168.0L408.0 174.0L409.0 178.0M412.0 171.0L410.0 177.0L411.0 180.0M415.0 172.7L412.5 178.0L410.5 182.0M413.0 174.0L415.0 176.0L417.0 176.5M409.0 177.0L413.0 176.0L415.0 178.0M429.0 184.0L431.0 188.0L430.0 192.0M434.0 186.0L433.0 192.0M438.0 188.0L437.0 192.0M431.0 183.5L430.0 186.5M687.0 528.0L693.0 526.0L698.0 525.0L703.5 525.0M689.5 516.0L693.0 513.0L697.0 512.0L700.0 513.0M697.0 551.0L701.0 546.0L705.0 545.0M700.0 551.0L704.0 548.0L706.5 549.0M459.8 218.4L461.5 220.9L463.0 223.2L463.8 225.4L464.3 228.4L465.5 231.6L467.2 234.5L469.1 237.0L471.0 239.4L472.9 241.8L474.8 244.2L477.0 246.6L479.0 248.2L479.8 250.3L481.0 253.5L483.5 256.2L485.8 258.3L487.9 259.8L488.5 261.1L488.4 263.9L489.1 267.1L489.8 270.1L490.7 273.0L491.5 275.9L492.4 278.9L493.5 281.8M462.0 217.0L459.8 218.4M463.7 219.5L461.5 220.9M465.3 222.0L463.0 223.2M466.3 224.8L463.8 225.4M466.8 227.7L464.3 228.4M467.9 230.5L465.5 231.6M469.4 233.0L467.2 234.5M471.2 235.5L469.1 237.0M473.0 237.8L471.0 239.4M474.9 240.1L472.9 241.8M476.8 242.5L474.8 244.2M478.8 244.7L477.0 246.6M481.1 246.6L479.0 248.2M482.2 249.4L479.8 250.3M483.2 252.2L481.0 253.5M485.3 254.3L483.5 256.2M487.5 256.3L485.8 258.3M489.9 258.1L487.9 259.8M491.0 260.6L488.5 261.1M491.0 263.6L488.4 263.9M491.6 266.5L489.1 267.1M492.4 269.4L489.8 270.1M493.2 272.3L490.7 273.0M494.0 275.2L491.5 275.9M494.9 278.0L492.4 278.9M495.9 280.9L493.5 281.8M437.5 193.7L439.6 196.1L442.1 198.4L445.1 200.0M439.5 192.0L437.5 193.7M441.5 194.3L439.6 196.1M443.6 196.3L442.1 198.4M446.3 197.6L445.1 200.0M491.6 278.0L492.8 280.9L494.5 284.1L497.3 286.2L499.4 288.0L501.1 289.8L502.0 291.8L502.6 294.1L502.6 296.5L502.1 299.3L501.7 302.4L501.5 306.3L503.6 309.7L506.2 312.4L509.5 313.8L511.9 314.6L512.7 315.2L512.7 317.3L512.9 320.4L513.4 323.5M494.0 277.0L491.6 278.0M495.1 279.8L492.8 280.9M496.5 282.4L494.5 284.1M498.9 284.2L497.3 286.2M501.1 286.1L499.4 288.0M503.3 288.3L501.1 289.8M504.5 290.9L502.0 291.8M505.2 293.8L502.6 294.1M505.2 296.7L502.6 296.5M504.7 299.7L502.1 299.3M504.3 302.7L501.7 302.4M504.0 305.7L501.5 306.3M505.6 308.1L503.6 309.7M507.6 310.2L506.2 312.4M510.4 311.4L509.5 313.8M513.2 312.4L511.9 314.6M515.1 314.1L512.7 315.2M515.3 317.1L512.7 317.3M515.5 320.1L512.9 320.4M516.0 323.1L513.4 323.5M514.4 324.8L514.2 327.8L513.9 330.8L513.7 333.8L513.4 337.1L514.0 340.4M517.0 325.0L514.4 324.8M516.8 328.0L514.2 327.8M516.5 331.0L513.9 330.8M516.3 334.0L513.7 333.8M516.0 337.0L513.4 337.1M516.6 339.9L514.0 340.4M564.2 387.8L566.2 389.9L567.7 391.5L568.1 393.9L569.0 397.0L570.2 400.1L571.8 402.8M566.0 386.0L564.2 387.8M568.1 388.1L566.2 389.9M570.1 390.3L567.7 391.5M570.7 393.3L568.1 393.9M571.5 396.2L569.0 397.0M572.6 398.9L570.2 400.1M574.0 401.5L571.8 402.8M685.9 493.1L687.5 493.6L687.4 495.6L687.9 498.6M687.0 491.0L685.9 493.1M689.5 492.3L687.5 493.6M689.8 495.3L687.4 495.6M690.3 498.2L687.9 498.6M700.9 523.8L700.7 526.8L700.4 529.9L700.4 533.0L700.4 536.2L700.9 539.4L701.4 542.3M703.5 524.0L700.9 523.8M703.3 527.0L700.7 526.8M703.0 530.0L700.4 529.9M703.0 533.0L700.4 533.0M703.0 536.0L700.4 536.2M703.5 538.9L700.9 539.4M704.0 541.9L701.4 542.3M704.4 546.2L704.7 549.2L704.9 552.0L704.7 554.8L704.5 557.8L704.4 560.9L704.4 564.0M707.0 546.0L704.4 546.2M707.2 549.0L704.7 549.2M707.5 552.0L704.9 552.0M707.3 555.0L704.7 554.8M707.1 558.0L704.5 557.8M707.0 561.0L704.4 560.9M707.0 564.0L704.4 564.0M706.6 582.0L706.6 585.0L706.6 587.8L706.0 590.6L705.8 594.0L706.4 597.3M709.0 582.0L706.6 582.0M709.0 585.0L706.6 585.0M709.0 588.0L706.6 587.8M708.4 590.9L706.0 590.6M708.2 593.9L705.8 594.0M708.8 596.8L706.4 597.3" fill="none" stroke="#000" stroke-width="1" stroke-linejoin="round" stroke-linecap="round" shape-rendering="crispEdges"/>
<rect x="165" y="71" width="669.4" height="659" fill="none" stroke="#000" stroke-width="2"/>
<path d="M226.5 730.0V735.0M293.5 730.0V735.0M360.5 730.0V735.0M427.5 730.0V735.0M494.5 730.0V735.0M561.5 730.0V735.0M628.5 730.0V735.0M696.5 730.0V735.0M763.5 730.0V735.0M830.5 730.0V735.0M161.0 149.5H165.0M161.0 233.5H165.0M161.0 316.5H165.0M161.0 400.5H165.0M161.0 483.5H165.0M161.0 566.5H165.0M161.0 650.5H165.0" fill="none" stroke="#000" stroke-width="1.2"/>
<path d="M211.42 738.12L212.23 738.12M211.42 738.12L210.22 738.56M212.23 738.12L213.43 738.56M210.22 738.56L209.41 739.87M213.43 738.56L213.84 739.43M209.41 739.87L209.01 742.06M211.42 741.62L211.83 741.62M211.42 741.62L210.22 742.06M211.83 741.62L213.03 742.06M209.01 742.06L209.01 744.24M210.22 742.06L209.41 742.93M213.03 742.06L213.84 742.93M209.41 742.93L209.01 744.24M213.84 742.93L214.24 744.24M209.01 744.24L209.41 745.99M214.24 744.24L214.24 744.68M214.24 744.68L213.84 745.99M209.41 745.99L210.22 746.86M213.84 745.99L213.03 746.86M210.22 746.86L211.42 747.30M213.03 746.86L211.83 747.30M211.42 747.30L211.83 747.30M218.66 738.12L220.27 738.12M218.66 738.12L217.86 738.56M220.27 738.12L221.07 738.56M217.86 738.56L217.45 739.00M221.07 738.56L221.47 739.00M217.45 739.00L217.05 739.87M221.47 739.00L221.88 739.87M217.05 739.87L217.05 740.31M221.88 739.87L221.88 740.75M221.88 740.75L221.47 741.62M221.47 741.62L220.67 742.93M220.67 742.93L216.65 747.30M216.65 747.30L222.28 747.30M225.49 746.43L225.09 746.86M225.49 746.43L225.90 746.86M225.09 746.86L225.49 747.30M225.90 746.86L225.49 747.30M231.12 738.12L231.52 738.12M231.12 738.12L229.92 738.56M231.52 738.12L232.73 738.56M229.92 738.56L229.11 739.43M232.73 738.56L233.53 739.43M229.11 739.43L228.71 740.75M233.53 739.43L233.94 741.18M228.71 740.75L228.71 741.18M228.71 741.18L229.11 742.49M233.94 741.18L233.53 742.49M233.94 741.18L233.94 743.37M229.11 742.49L229.92 743.37M233.53 742.49L232.73 743.37M229.92 743.37L231.12 743.80M232.73 743.37L231.52 743.80M233.94 743.37L233.53 745.55M231.12 743.80L231.52 743.80M233.53 745.55L232.73 746.86M229.11 745.99L229.51 746.86M229.51 746.86L230.72 747.30M232.73 746.86L231.52 747.30M230.72 747.30L231.52 747.30M236.35 738.12L238.36 747.30M240.37 738.12L238.36 747.30M240.37 738.12L242.38 747.30M244.39 738.12L242.38 747.30" fill="none" stroke="#000" stroke-width="1.1" stroke-linecap="round" stroke-linejoin="round" shape-rendering="crispEdges"/>
<path d="M274.40 738.12L275.21 738.12M274.40 738.12L273.20 738.56M275.21 738.12L276.41 738.56M273.20 738.56L272.39 739.87M276.41 738.56L276.82 739.43M272.39 739.87L271.99 742.06M274.40 741.62L274.81 741.62M274.40 741.62L273.20 742.06M274.81 741.62L276.01 742.06M271.99 742.06L271.99 744.24M273.20 742.06L272.39 742.93M276.01 742.06L276.82 742.93M272.39 742.93L271.99 744.24M276.82 742.93L277.22 744.24M271.99 744.24L272.39 745.99M277.22 744.24L277.22 744.68M277.22 744.68L276.82 745.99M272.39 745.99L273.20 746.86M276.82 745.99L276.01 746.86M273.20 746.86L274.40 747.30M276.01 746.86L274.81 747.30M274.40 747.30L274.81 747.30M281.64 738.12L283.25 738.12M281.64 738.12L280.84 738.56M283.25 738.12L284.05 738.56M280.84 738.56L280.43 739.00M284.05 738.56L284.45 739.00M280.43 739.00L280.03 739.87M284.45 739.00L284.86 739.87M280.03 739.87L280.03 740.31M284.86 739.87L284.86 740.75M284.86 740.75L284.45 741.62M284.45 741.62L283.65 742.93M283.65 742.93L279.63 747.30M279.63 747.30L285.26 747.30M288.47 746.43L288.07 746.86M288.47 746.43L288.88 746.86M288.07 746.86L288.47 747.30M288.88 746.86L288.47 747.30M293.70 738.12L295.31 738.12M293.70 738.12L292.49 738.56M295.31 738.12L296.51 738.56M292.49 738.56L292.09 739.43M296.51 738.56L296.92 739.43M292.09 739.43L292.09 740.31M296.92 739.43L296.92 740.31M292.09 740.31L292.49 741.18M296.92 740.31L296.51 741.18M292.49 741.18L293.30 741.62M296.51 741.18L295.71 741.62M293.30 741.62L294.91 742.06M295.71 741.62L294.10 742.06M294.10 742.06L292.90 742.49M294.91 742.06L296.11 742.49M292.90 742.49L292.09 743.37M296.11 742.49L296.92 743.37M292.09 743.37L291.69 744.24M296.92 743.37L297.32 744.24M291.69 744.24L291.69 745.55M297.32 744.24L297.32 745.55M291.69 745.55L292.09 746.43M297.32 745.55L296.92 746.43M292.09 746.43L292.49 746.86M296.92 746.43L296.51 746.86M292.49 746.86L293.70 747.30M296.51 746.86L295.31 747.30M293.70 747.30L295.31 747.30M300.53 738.12L304.55 738.12M300.53 738.12L300.13 742.06M301.74 741.18L302.95 741.18M301.74 741.18L300.53 741.62M302.95 741.18L304.15 741.62M300.53 741.62L300.13 742.06M304.15 741.62L304.96 742.49M304.96 742.49L305.36 743.80M305.36 743.80L305.36 744.68M305.36 744.68L304.96 745.99M299.73 745.55L300.13 746.43M304.96 745.99L304.15 746.86M300.13 746.43L300.53 746.86M300.53 746.86L301.74 747.30M304.15 746.86L302.95 747.30M301.74 747.30L302.95 747.30M307.37 738.12L309.38 747.30M311.39 738.12L309.38 747.30M311.39 738.12L313.40 747.30M315.41 738.12L313.40 747.30" fill="none" stroke="#000" stroke-width="1.1" stroke-linecap="round" stroke-linejoin="round" shape-rendering="crispEdges"/>
<path d="M345.42 738.12L346.23 738.12M345.42 738.12L344.22 738.56M346.23 738.12L347.43 738.56M344.22 738.56L343.41 739.87M347.43 738.56L347.84 739.43M343.41 739.87L343.01 742.06M345.42 741.62L345.83 741.62M345.42 741.62L344.22 742.06M345.83 741.62L347.03 742.06M343.01 742.06L343.01 744.24M344.22 742.06L343.41 742.93M347.03 742.06L347.84 742.93M343.41 742.93L343.01 744.24M347.84 742.93L348.24 744.24M343.01 744.24L343.41 745.99M348.24 744.24L348.24 744.68M348.24 744.68L347.84 745.99M343.41 745.99L344.22 746.86M347.84 745.99L347.03 746.86M344.22 746.86L345.42 747.30M347.03 746.86L345.83 747.30M345.42 747.30L345.83 747.30M352.66 738.12L354.27 738.12M352.66 738.12L351.86 738.56M354.27 738.12L355.07 738.56M351.86 738.56L351.45 739.00M355.07 738.56L355.47 739.00M351.45 739.00L351.05 739.87M355.47 739.00L355.88 739.87M351.05 739.87L351.05 740.31M355.88 739.87L355.88 740.75M355.88 740.75L355.47 741.62M355.47 741.62L354.67 742.93M354.67 742.93L350.65 747.30M350.65 747.30L356.28 747.30M359.49 746.43L359.09 746.86M359.49 746.43L359.90 746.86M359.09 746.86L359.49 747.30M359.90 746.86L359.49 747.30M364.72 738.12L366.33 738.12M364.72 738.12L363.51 738.56M366.33 738.12L367.53 738.56M363.51 738.56L363.11 739.43M367.53 738.56L367.94 739.43M363.11 739.43L363.11 740.31M367.94 739.43L367.94 740.31M363.11 740.31L363.51 741.18M367.94 740.31L367.53 741.18M363.51 741.18L364.32 741.62M367.53 741.18L366.73 741.62M364.32 741.62L365.93 742.06M366.73 741.62L365.12 742.06M365.12 742.06L363.92 742.49M365.93 742.06L367.13 742.49M363.92 742.49L363.11 743.37M367.13 742.49L367.94 743.37M363.11 743.37L362.71 744.24M367.94 743.37L368.34 744.24M362.71 744.24L362.71 745.55M368.34 744.24L368.34 745.55M362.71 745.55L363.11 746.43M368.34 745.55L367.94 746.43M363.11 746.43L363.51 746.86M367.94 746.43L367.53 746.86M363.51 746.86L364.72 747.30M367.53 746.86L366.33 747.30M364.72 747.30L366.33 747.30M370.35 738.12L372.36 747.30M374.37 738.12L372.36 747.30M374.37 738.12L376.38 747.30M378.39 738.12L376.38 747.30" fill="none" stroke="#000" stroke-width="1.1" stroke-linecap="round" stroke-linejoin="round" shape-rendering="crispEdges"/>
<path d="M408.40 738.12L409.21 738.12M408.40 738.12L407.20 738.56M409.21 738.12L410.41 738.56M407.20 738.56L406.39 739.87M410.41 738.56L410.82 739.43M406.39 739.87L405.99 742.06M408.40 741.62L408.81 741.62M408.40 741.62L407.20 742.06M408.81 741.62L410.01 742.06M405.99 742.06L405.99 744.24M407.20 742.06L406.39 742.93M410.01 742.06L410.82 742.93M406.39 742.93L405.99 744.24M410.82 742.93L411.22 744.24M405.99 744.24L406.39 745.99M411.22 744.24L411.22 744.68M411.22 744.68L410.82 745.99M406.39 745.99L407.20 746.86M410.82 745.99L410.01 746.86M407.20 746.86L408.40 747.30M410.01 746.86L408.81 747.30M408.40 747.30L408.81 747.30M415.64 738.12L417.25 738.12M415.64 738.12L414.84 738.56M417.25 738.12L418.05 738.56M414.84 738.56L414.43 739.00M418.05 738.56L418.45 739.00M414.43 739.00L414.03 739.87M418.45 739.00L418.86 739.87M414.03 739.87L414.03 740.31M418.86 739.87L418.86 740.75M418.86 740.75L418.45 741.62M418.45 741.62L417.65 742.93M417.65 742.93L413.63 747.30M413.63 747.30L419.26 747.30M422.47 746.43L422.07 746.86M422.47 746.43L422.88 746.86M422.07 746.86L422.47 747.30M422.88 746.86L422.47 747.30M425.69 738.12L431.32 738.12M431.32 738.12L427.30 747.30M434.53 738.12L438.55 738.12M434.53 738.12L434.13 742.06M435.74 741.18L436.95 741.18M435.74 741.18L434.53 741.62M436.95 741.18L438.15 741.62M434.53 741.62L434.13 742.06M438.15 741.62L438.96 742.49M438.96 742.49L439.36 743.80M439.36 743.80L439.36 744.68M439.36 744.68L438.96 745.99M433.73 745.55L434.13 746.43M438.96 745.99L438.15 746.86M434.13 746.43L434.53 746.86M434.53 746.86L435.74 747.30M438.15 746.86L436.95 747.30M435.74 747.30L436.95 747.30M441.37 738.12L443.38 747.30M445.39 738.12L443.38 747.30M445.39 738.12L447.40 747.30M449.41 738.12L447.40 747.30" fill="none" stroke="#000" stroke-width="1.1" stroke-linecap="round" stroke-linejoin="round" shape-rendering="crispEdges"/>
<path d="M479.42 738.12L480.23 738.12M479.42 738.12L478.22 738.56M480.23 738.12L481.43 738.56M478.22 738.56L477.41 739.87M481.43 738.56L481.84 739.43M477.41 739.87L477.01 742.06M479.42 741.62L479.83 741.62M479.42 741.62L478.22 742.06M479.83 741.62L481.03 742.06M477.01 742.06L477.01 744.24M478.22 742.06L477.41 742.93M481.03 742.06L481.84 742.93M477.41 742.93L477.01 744.24M481.84 742.93L482.24 744.24M477.01 744.24L477.41 745.99M482.24 744.24L482.24 744.68M482.24 744.68L481.84 745.99M477.41 745.99L478.22 746.86M481.84 745.99L481.03 746.86M478.22 746.86L479.42 747.30M481.03 746.86L479.83 747.30M479.42 747.30L479.83 747.30M486.66 738.12L488.27 738.12M486.66 738.12L485.86 738.56M488.27 738.12L489.07 738.56M485.86 738.56L485.45 739.00M489.07 738.56L489.47 739.00M485.45 739.00L485.05 739.87M489.47 739.00L489.88 739.87M485.05 739.87L485.05 740.31M489.88 739.87L489.88 740.75M489.88 740.75L489.47 741.62M489.47 741.62L488.67 742.93M488.67 742.93L484.65 747.30M484.65 747.30L490.28 747.30M493.49 746.43L493.09 746.86M493.49 746.43L493.90 746.86M493.09 746.86L493.49 747.30M493.90 746.86L493.49 747.30M496.71 738.12L502.34 738.12M502.34 738.12L498.32 747.30M504.35 738.12L506.36 747.30M508.37 738.12L506.36 747.30M508.37 738.12L510.38 747.30M512.39 738.12L510.38 747.30" fill="none" stroke="#000" stroke-width="1.1" stroke-linecap="round" stroke-linejoin="round" shape-rendering="crispEdges"/>
<path d="M542.40 738.12L543.21 738.12M542.40 738.12L541.20 738.56M543.21 738.12L544.41 738.56M541.20 738.56L540.39 739.87M544.41 738.56L544.82 739.43M540.39 739.87L539.99 742.06M542.40 741.62L542.81 741.62M542.40 741.62L541.20 742.06M542.81 741.62L544.01 742.06M539.99 742.06L539.99 744.24M541.20 742.06L540.39 742.93M544.01 742.06L544.82 742.93M540.39 742.93L539.99 744.24M544.82 742.93L545.22 744.24M539.99 744.24L540.39 745.99M545.22 744.24L545.22 744.68M545.22 744.68L544.82 745.99M540.39 745.99L541.20 746.86M544.82 745.99L544.01 746.86M541.20 746.86L542.40 747.30M544.01 746.86L542.81 747.30M542.40 747.30L542.81 747.30M549.64 738.12L551.25 738.12M549.64 738.12L548.84 738.56M551.25 738.12L552.05 738.56M548.84 738.56L548.43 739.00M552.05 738.56L552.45 739.00M548.43 739.00L548.03 739.87M552.45 739.00L552.86 739.87M548.03 739.87L548.03 740.31M552.86 739.87L552.86 740.75M552.86 740.75L552.45 741.62M552.45 741.62L551.65 742.93M551.65 742.93L547.63 747.30M547.63 747.30L553.26 747.30M556.47 746.43L556.07 746.86M556.47 746.43L556.88 746.86M556.07 746.86L556.47 747.30M556.88 746.86L556.47 747.30M562.50 738.12L563.31 738.12M562.50 738.12L561.30 738.56M563.31 738.12L564.51 738.56M561.30 738.56L560.49 739.87M564.51 738.56L564.92 739.43M560.49 739.87L560.09 742.06M562.50 741.62L562.91 741.62M562.50 741.62L561.30 742.06M562.91 741.62L564.11 742.06M560.09 742.06L560.09 744.24M561.30 742.06L560.49 742.93M564.11 742.06L564.92 742.93M560.49 742.93L560.09 744.24M564.92 742.93L565.32 744.24M560.09 744.24L560.49 745.99M565.32 744.24L565.32 744.68M565.32 744.68L564.92 745.99M560.49 745.99L561.30 746.86M564.92 745.99L564.11 746.86M561.30 746.86L562.50 747.30M564.11 746.86L562.91 747.30M562.50 747.30L562.91 747.30M568.53 738.12L572.55 738.12M568.53 738.12L568.13 742.06M569.74 741.18L570.95 741.18M569.74 741.18L568.53 741.62M570.95 741.18L572.15 741.62M568.53 741.62L568.13 742.06M572.15 741.62L572.96 742.49M572.96 742.49L573.36 743.80M573.36 743.80L573.36 744.68M573.36 744.68L572.96 745.99M567.73 745.55L568.13 746.43M572.96 745.99L572.15 746.86M568.13 746.43L568.53 746.86M568.53 746.86L569.74 747.30M572.15 746.86L570.95 747.30M569.74 747.30L570.95 747.30M575.37 738.12L577.38 747.30M579.39 738.12L577.38 747.30M579.39 738.12L581.40 747.30M583.41 738.12L581.40 747.30" fill="none" stroke="#000" stroke-width="1.1" stroke-linecap="round" stroke-linejoin="round" shape-rendering="crispEdges"/>
<path d="M613.42 738.12L614.23 738.12M613.42 738.12L612.22 738.56M614.23 738.12L615.43 738.56M612.22 738.56L611.41 739.87M615.43 738.56L615.84 739.43M611.41 739.87L611.01 742.06M613.42 741.62L613.83 741.62M613.42 741.62L612.22 742.06M613.83 741.62L615.03 742.06M611.01 742.06L611.01 744.24M612.22 742.06L611.41 742.93M615.03 742.06L615.84 742.93M611.41 742.93L611.01 744.24M615.84 742.93L616.24 744.24M611.01 744.24L611.41 745.99M616.24 744.24L616.24 744.68M616.24 744.68L615.84 745.99M611.41 745.99L612.22 746.86M615.84 745.99L615.03 746.86M612.22 746.86L613.42 747.30M615.03 746.86L613.83 747.30M613.42 747.30L613.83 747.30M620.66 738.12L622.27 738.12M620.66 738.12L619.86 738.56M622.27 738.12L623.07 738.56M619.86 738.56L619.45 739.00M623.07 738.56L623.47 739.00M619.45 739.00L619.05 739.87M623.47 739.00L623.88 739.87M619.05 739.87L619.05 740.31M623.88 739.87L623.88 740.75M623.88 740.75L623.47 741.62M623.47 741.62L622.67 742.93M622.67 742.93L618.65 747.30M618.65 747.30L624.28 747.30M627.49 746.43L627.09 746.86M627.49 746.43L627.90 746.86M627.09 746.86L627.49 747.30M627.90 746.86L627.49 747.30M633.52 738.12L634.33 738.12M633.52 738.12L632.32 738.56M634.33 738.12L635.53 738.56M632.32 738.56L631.51 739.87M635.53 738.56L635.94 739.43M631.51 739.87L631.11 742.06M633.52 741.62L633.93 741.62M633.52 741.62L632.32 742.06M633.93 741.62L635.13 742.06M631.11 742.06L631.11 744.24M632.32 742.06L631.51 742.93M635.13 742.06L635.94 742.93M631.51 742.93L631.11 744.24M635.94 742.93L636.34 744.24M631.11 744.24L631.51 745.99M636.34 744.24L636.34 744.68M636.34 744.68L635.94 745.99M631.51 745.99L632.32 746.86M635.94 745.99L635.13 746.86M632.32 746.86L633.52 747.30M635.13 746.86L633.93 747.30M633.52 747.30L633.93 747.30M638.35 738.12L640.36 747.30M642.37 738.12L640.36 747.30M642.37 738.12L644.38 747.30M646.39 738.12L644.38 747.30" fill="none" stroke="#000" stroke-width="1.1" stroke-linecap="round" stroke-linejoin="round" shape-rendering="crispEdges"/>
<path d="M677.40 738.12L678.21 738.12M677.40 738.12L676.20 738.56M678.21 738.12L679.41 738.56M676.20 738.56L675.39 739.87M679.41 738.56L679.82 739.43M675.39 739.87L674.99 742.06M677.40 741.62L677.81 741.62M677.40 741.62L676.20 742.06M677.81 741.62L679.01 742.06M674.99 742.06L674.99 744.24M676.20 742.06L675.39 742.93M679.01 742.06L679.82 742.93M675.39 742.93L674.99 744.24M679.82 742.93L680.22 744.24M674.99 744.24L675.39 745.99M680.22 744.24L680.22 744.68M680.22 744.68L679.82 745.99M675.39 745.99L676.20 746.86M679.82 745.99L679.01 746.86M676.20 746.86L677.40 747.30M679.01 746.86L677.81 747.30M677.40 747.30L677.81 747.30M684.64 738.12L686.25 738.12M684.64 738.12L683.84 738.56M686.25 738.12L687.05 738.56M683.84 738.56L683.43 739.00M687.05 738.56L687.45 739.00M683.43 739.00L683.03 739.87M687.45 739.00L687.86 739.87M683.03 739.87L683.03 740.31M687.86 739.87L687.86 740.75M687.86 740.75L687.45 741.62M687.45 741.62L686.65 742.93M686.65 742.93L682.63 747.30M682.63 747.30L688.26 747.30M691.47 746.43L691.07 746.86M691.47 746.43L691.88 746.86M691.07 746.86L691.47 747.30M691.88 746.86L691.47 747.30M695.49 738.12L699.51 738.12M695.49 738.12L695.09 742.06M696.70 741.18L697.91 741.18M696.70 741.18L695.49 741.62M697.91 741.18L699.11 741.62M695.49 741.62L695.09 742.06M699.11 741.62L699.92 742.49M699.92 742.49L700.32 743.80M700.32 743.80L700.32 744.68M700.32 744.68L699.92 745.99M694.69 745.55L695.09 746.43M699.92 745.99L699.11 746.86M695.09 746.43L695.49 746.86M695.49 746.86L696.70 747.30M699.11 746.86L697.91 747.30M696.70 747.30L697.91 747.30M703.53 738.12L707.55 738.12M703.53 738.12L703.13 742.06M704.74 741.18L705.95 741.18M704.74 741.18L703.53 741.62M705.95 741.18L707.15 741.62M703.53 741.62L703.13 742.06M707.15 741.62L707.96 742.49M707.96 742.49L708.36 743.80M708.36 743.80L708.36 744.68M708.36 744.68L707.96 745.99M702.73 745.55L703.13 746.43M707.96 745.99L707.15 746.86M703.13 746.43L703.53 746.86M703.53 746.86L704.74 747.30M707.15 746.86L705.95 747.30M704.74 747.30L705.95 747.30M710.37 738.12L712.38 747.30M714.39 738.12L712.38 747.30M714.39 738.12L716.40 747.30M718.41 738.12L716.40 747.30" fill="none" stroke="#000" stroke-width="1.1" stroke-linecap="round" stroke-linejoin="round" shape-rendering="crispEdges"/>
<path d="M748.42 738.12L749.23 738.12M748.42 738.12L747.22 738.56M749.23 738.12L750.43 738.56M747.22 738.56L746.41 739.87M750.43 738.56L750.84 739.43M746.41 739.87L746.01 742.06M748.42 741.62L748.83 741.62M748.42 741.62L747.22 742.06M748.83 741.62L750.03 742.06M746.01 742.06L746.01 744.24M747.22 742.06L746.41 742.93M750.03 742.06L750.84 742.93M746.41 742.93L746.01 744.24M750.84 742.93L751.24 744.24M746.01 744.24L746.41 745.99M751.24 744.24L751.24 744.68M751.24 744.68L750.84 745.99M746.41 745.99L747.22 746.86M750.84 745.99L750.03 746.86M747.22 746.86L748.42 747.30M750.03 746.86L748.83 747.30M748.42 747.30L748.83 747.30M755.66 738.12L757.27 738.12M755.66 738.12L754.86 738.56M757.27 738.12L758.07 738.56M754.86 738.56L754.45 739.00M758.07 738.56L758.47 739.00M754.45 739.00L754.05 739.87M758.47 739.00L758.88 739.87M754.05 739.87L754.05 740.31M758.88 739.87L758.88 740.75M758.88 740.75L758.47 741.62M758.47 741.62L757.67 742.93M757.67 742.93L753.65 747.30M753.65 747.30L759.28 747.30M762.49 746.43L762.09 746.86M762.49 746.43L762.90 746.86M762.09 746.86L762.49 747.30M762.90 746.86L762.49 747.30M766.51 738.12L770.53 738.12M766.51 738.12L766.11 742.06M767.72 741.18L768.93 741.18M767.72 741.18L766.51 741.62M768.93 741.18L770.13 741.62M766.51 741.62L766.11 742.06M770.13 741.62L770.94 742.49M770.94 742.49L771.34 743.80M771.34 743.80L771.34 744.68M771.34 744.68L770.94 745.99M765.71 745.55L766.11 746.43M770.94 745.99L770.13 746.86M766.11 746.43L766.51 746.86M766.51 746.86L767.72 747.30M770.13 746.86L768.93 747.30M767.72 747.30L768.93 747.30M773.35 738.12L775.36 747.30M777.37 738.12L775.36 747.30M777.37 738.12L779.38 747.30M781.39 738.12L779.38 747.30" fill="none" stroke="#000" stroke-width="1.1" stroke-linecap="round" stroke-linejoin="round" shape-rendering="crispEdges"/>
<path d="M811.40 738.12L812.21 738.12M811.40 738.12L810.20 738.56M812.21 738.12L813.41 738.56M810.20 738.56L809.39 739.87M813.41 738.56L813.82 739.43M809.39 739.87L808.99 742.06M811.40 741.62L811.81 741.62M811.40 741.62L810.20 742.06M811.81 741.62L813.01 742.06M808.99 742.06L808.99 744.24M810.20 742.06L809.39 742.93M813.01 742.06L813.82 742.93M809.39 742.93L808.99 744.24M813.82 742.93L814.22 744.24M808.99 744.24L809.39 745.99M814.22 744.24L814.22 744.68M814.22 744.68L813.82 745.99M809.39 745.99L810.20 746.86M813.82 745.99L813.01 746.86M810.20 746.86L811.40 747.30M813.01 746.86L811.81 747.30M811.40 747.30L811.81 747.30M818.64 738.12L820.25 738.12M818.64 738.12L817.84 738.56M820.25 738.12L821.05 738.56M817.84 738.56L817.43 739.00M821.05 738.56L821.45 739.00M817.43 739.00L817.03 739.87M821.45 739.00L821.86 739.87M817.03 739.87L817.03 740.31M821.86 739.87L821.86 740.75M821.86 740.75L821.45 741.62M821.45 741.62L820.65 742.93M820.65 742.93L816.63 747.30M816.63 747.30L822.26 747.30M825.47 746.43L825.07 746.86M825.47 746.43L825.88 746.86M825.07 746.86L825.47 747.30M825.88 746.86L825.47 747.30M832.71 738.12L828.69 744.24M832.71 738.12L832.71 747.30M828.69 744.24L834.72 744.24M837.53 738.12L841.55 738.12M837.53 738.12L837.13 742.06M838.74 741.18L839.95 741.18M838.74 741.18L837.53 741.62M839.95 741.18L841.15 741.62M837.53 741.62L837.13 742.06M841.15 741.62L841.96 742.49M841.96 742.49L842.36 743.80M842.36 743.80L842.36 744.68M842.36 744.68L841.96 745.99M836.73 745.55L837.13 746.43M841.96 745.99L841.15 746.86M837.13 746.43L837.53 746.86M837.53 746.86L838.74 747.30M841.15 746.86L839.95 747.30M838.74 747.30L839.95 747.30M844.37 738.12L846.38 747.30M848.39 738.12L846.38 747.30M848.39 738.12L850.40 747.30M852.41 738.12L850.40 747.30" fill="none" stroke="#000" stroke-width="1.1" stroke-linecap="round" stroke-linejoin="round" shape-rendering="crispEdges"/>
<path d="M125.65 145.92L124.44 147.23M125.65 145.92L125.65 155.10M124.44 147.23L123.64 147.67M130.47 145.92L136.10 145.92M136.10 145.92L132.08 155.10M139.31 154.23L138.91 154.66M139.31 154.23L139.72 154.66M138.91 154.66L139.31 155.10M139.72 154.66L139.31 155.10M146.55 145.92L142.53 152.04M146.55 145.92L146.55 155.10M142.53 152.04L148.56 152.04M150.97 145.92L150.97 155.10M150.97 145.92L156.60 155.10M156.60 145.92L156.60 155.10" fill="none" stroke="#000" stroke-width="1.1" stroke-linecap="round" stroke-linejoin="round" shape-rendering="crispEdges"/>
<path d="M117.61 229.92L116.40 231.23M117.61 229.92L117.61 239.10M116.40 231.23L115.60 231.67M122.43 229.92L128.06 229.92M128.06 229.92L124.04 239.10M131.27 238.23L130.87 238.66M131.27 238.23L131.68 238.66M130.87 238.66L131.27 239.10M131.68 238.66L131.27 239.10M135.29 229.92L139.72 229.92M139.72 229.92L137.30 233.42M137.30 233.42L138.51 233.42M138.51 233.42L139.31 233.86M139.31 233.86L139.72 234.29M139.72 234.29L140.12 235.60M140.12 235.60L140.12 236.48M140.12 236.48L139.72 237.79M134.49 237.35L134.89 238.23M139.72 237.79L138.91 238.66M134.89 238.23L135.29 238.66M135.29 238.66L136.50 239.10M138.91 238.66L137.71 239.10M136.50 239.10L137.71 239.10M143.33 229.92L147.35 229.92M143.33 229.92L142.93 233.86M144.54 232.98L145.75 232.98M144.54 232.98L143.33 233.42M145.75 232.98L146.95 233.42M143.33 233.42L142.93 233.86M146.95 233.42L147.76 234.29M147.76 234.29L148.16 235.60M148.16 235.60L148.16 236.48M148.16 236.48L147.76 237.79M142.53 237.35L142.93 238.23M147.76 237.79L146.95 238.66M142.93 238.23L143.33 238.66M143.33 238.66L144.54 239.10M146.95 238.66L145.75 239.10M144.54 239.10L145.75 239.10M150.97 229.92L150.97 239.10M150.97 229.92L156.60 239.10M156.60 229.92L156.60 239.10" fill="none" stroke="#000" stroke-width="1.1" stroke-linecap="round" stroke-linejoin="round" shape-rendering="crispEdges"/>
<path d="M125.65 312.92L124.44 314.23M125.65 312.92L125.65 322.10M124.44 314.23L123.64 314.67M130.47 312.92L136.10 312.92M136.10 312.92L132.08 322.10M139.31 321.23L138.91 321.66M139.31 321.23L139.72 321.66M138.91 321.66L139.31 322.10M139.72 321.66L139.31 322.10M143.33 312.92L147.76 312.92M147.76 312.92L145.34 316.42M145.34 316.42L146.55 316.42M146.55 316.42L147.35 316.86M147.35 316.86L147.76 317.29M147.76 317.29L148.16 318.60M148.16 318.60L148.16 319.48M148.16 319.48L147.76 320.79M142.53 320.35L142.93 321.23M147.76 320.79L146.95 321.66M142.93 321.23L143.33 321.66M143.33 321.66L144.54 322.10M146.95 321.66L145.75 322.10M144.54 322.10L145.75 322.10M150.97 312.92L150.97 322.10M150.97 312.92L156.60 322.10M156.60 312.92L156.60 322.10" fill="none" stroke="#000" stroke-width="1.1" stroke-linecap="round" stroke-linejoin="round" shape-rendering="crispEdges"/>
<path d="M117.61 396.92L116.40 398.23M117.61 396.92L117.61 406.10M116.40 398.23L115.60 398.67M122.43 396.92L128.06 396.92M128.06 396.92L124.04 406.10M131.27 405.23L130.87 405.66M131.27 405.23L131.68 405.66M130.87 405.66L131.27 406.10M131.68 405.66L131.27 406.10M136.50 396.92L138.11 396.92M136.50 396.92L135.70 397.36M138.11 396.92L138.91 397.36M135.70 397.36L135.29 397.80M138.91 397.36L139.31 397.80M135.29 397.80L134.89 398.67M139.31 397.80L139.72 398.67M134.89 398.67L134.89 399.11M139.72 398.67L139.72 399.55M139.72 399.55L139.31 400.42M139.31 400.42L138.51 401.73M138.51 401.73L134.49 406.10M134.49 406.10L140.12 406.10M143.33 396.92L147.35 396.92M143.33 396.92L142.93 400.86M144.54 399.98L145.75 399.98M144.54 399.98L143.33 400.42M145.75 399.98L146.95 400.42M143.33 400.42L142.93 400.86M146.95 400.42L147.76 401.29M147.76 401.29L148.16 402.60M148.16 402.60L148.16 403.48M148.16 403.48L147.76 404.79M142.53 404.35L142.93 405.23M147.76 404.79L146.95 405.66M142.93 405.23L143.33 405.66M143.33 405.66L144.54 406.10M146.95 405.66L145.75 406.10M144.54 406.10L145.75 406.10M150.97 396.92L150.97 406.10M150.97 396.92L156.60 406.10M156.60 396.92L156.60 406.10" fill="none" stroke="#000" stroke-width="1.1" stroke-linecap="round" stroke-linejoin="round" shape-rendering="crispEdges"/>
<path d="M125.65 479.92L124.44 481.23M125.65 479.92L125.65 489.10M124.44 481.23L123.64 481.67M130.47 479.92L136.10 479.92M136.10 479.92L132.08 489.10M139.31 488.23L138.91 488.66M139.31 488.23L139.72 488.66M138.91 488.66L139.31 489.10M139.72 488.66L139.31 489.10M144.54 479.92L146.15 479.92M144.54 479.92L143.74 480.36M146.15 479.92L146.95 480.36M143.74 480.36L143.33 480.80M146.95 480.36L147.35 480.80M143.33 480.80L142.93 481.67M147.35 480.80L147.76 481.67M142.93 481.67L142.93 482.11M147.76 481.67L147.76 482.55M147.76 482.55L147.35 483.42M147.35 483.42L146.55 484.73M146.55 484.73L142.53 489.10M142.53 489.10L148.16 489.10M150.97 479.92L150.97 489.10M150.97 479.92L156.60 489.10M156.60 479.92L156.60 489.10" fill="none" stroke="#000" stroke-width="1.1" stroke-linecap="round" stroke-linejoin="round" shape-rendering="crispEdges"/>
<path d="M117.61 562.92L116.40 564.23M117.61 562.92L117.61 572.10M116.40 564.23L115.60 564.67M122.43 562.92L128.06 562.92M128.06 562.92L124.04 572.10M131.27 571.23L130.87 571.66M131.27 571.23L131.68 571.66M130.87 571.66L131.27 572.10M131.68 571.66L131.27 572.10M137.71 562.92L136.50 564.23M137.71 562.92L137.71 572.10M136.50 564.23L135.70 564.67M143.33 562.92L147.35 562.92M143.33 562.92L142.93 566.86M144.54 565.98L145.75 565.98M144.54 565.98L143.33 566.42M145.75 565.98L146.95 566.42M143.33 566.42L142.93 566.86M146.95 566.42L147.76 567.29M147.76 567.29L148.16 568.60M148.16 568.60L148.16 569.48M148.16 569.48L147.76 570.79M142.53 570.35L142.93 571.23M147.76 570.79L146.95 571.66M142.93 571.23L143.33 571.66M143.33 571.66L144.54 572.10M146.95 571.66L145.75 572.10M144.54 572.10L145.75 572.10M150.97 562.92L150.97 572.10M150.97 562.92L156.60 572.10M156.60 562.92L156.60 572.10" fill="none" stroke="#000" stroke-width="1.1" stroke-linecap="round" stroke-linejoin="round" shape-rendering="crispEdges"/>
<path d="M125.65 646.92L124.44 648.23M125.65 646.92L125.65 656.10M124.44 648.23L123.64 648.67M130.47 646.92L136.10 646.92M136.10 646.92L132.08 656.10M139.31 655.23L138.91 655.66M139.31 655.23L139.72 655.66M138.91 655.66L139.31 656.10M139.72 655.66L139.31 656.10M145.75 646.92L144.54 648.23M145.75 646.92L145.75 656.10M144.54 648.23L143.74 648.67M150.97 646.92L150.97 656.10M150.97 646.92L156.60 656.10M156.60 646.92L156.60 656.10" fill="none" stroke="#000" stroke-width="1.1" stroke-linecap="round" stroke-linejoin="round" shape-rendering="crispEdges"/>
<path d="M178.44 8.26L181.67 8.26M178.44 8.26L176.83 9.12M181.67 8.26L183.28 9.12M176.83 9.12L175.21 10.85M183.28 9.12L184.89 10.85M175.21 10.85L174.41 12.58M184.89 10.85L185.70 12.58M174.41 12.58L173.60 15.17M173.60 15.17L173.60 19.49M173.60 19.49L174.41 22.08M174.41 22.08L175.21 23.81M185.70 22.08L184.89 23.81M175.21 23.81L176.83 25.54M184.89 23.81L183.28 25.54M176.83 25.54L178.44 26.40M183.28 25.54L181.67 26.40M178.44 26.40L181.67 26.40M194.57 14.30L196.99 14.30M194.57 14.30L192.96 15.17M196.99 14.30L198.60 15.17M200.22 14.30L200.22 26.40M192.96 15.17L191.34 16.90M198.60 15.17L200.22 16.90M191.34 16.90L190.54 19.49M190.54 19.49L190.54 21.22M190.54 21.22L191.34 23.81M191.34 23.81L192.96 25.54M200.22 23.81L198.60 25.54M192.96 25.54L194.57 26.40M198.60 25.54L196.99 26.40M194.57 26.40L196.99 26.40M206.67 14.30L206.67 26.40M210.70 14.30L213.12 14.30M210.70 14.30L209.09 15.17M209.09 15.17L207.48 16.90M207.48 16.90L206.67 19.49M217.15 7.39L216.35 8.26M217.15 7.39L217.96 8.26M216.35 8.26L217.15 9.12M217.96 8.26L217.15 9.12M217.15 14.30L217.15 26.40M223.61 8.26L223.61 26.40M226.83 14.30L229.25 14.30M226.83 14.30L225.22 15.17M229.25 14.30L230.87 15.17M225.22 15.17L223.61 16.90M230.87 15.17L232.48 16.90M232.48 16.90L233.29 19.49M233.29 19.49L233.29 21.22M233.29 21.22L232.48 23.81M223.61 23.81L225.22 25.54M232.48 23.81L230.87 25.54M225.22 25.54L226.83 26.40M230.87 25.54L229.25 26.40M226.83 26.40L229.25 26.40M238.93 8.26L238.93 26.40M242.16 14.30L244.58 14.30M242.16 14.30L240.54 15.17M244.58 14.30L246.19 15.17M240.54 15.17L238.93 16.90M246.19 15.17L247.80 16.90M247.80 16.90L248.61 19.49M248.61 19.49L248.61 21.22M248.61 21.22L247.80 23.81M238.93 23.81L240.54 25.54M247.80 23.81L246.19 25.54M240.54 25.54L242.16 26.40M246.19 25.54L244.58 26.40M242.16 26.40L244.58 26.40M257.48 14.30L259.90 14.30M257.48 14.30L255.87 15.17M259.90 14.30L261.52 15.17M255.87 15.17L254.26 16.90M261.52 15.17L262.32 16.03M262.32 16.03L263.13 17.76M254.26 16.90L253.45 19.49M263.13 17.76L263.13 19.49M253.45 19.49L263.13 19.49M253.45 19.49L253.45 21.22M253.45 21.22L254.26 23.81M254.26 23.81L255.87 25.54M263.13 23.81L261.52 25.54M255.87 25.54L257.48 26.40M261.52 25.54L259.90 26.40M257.48 26.40L259.90 26.40M272.00 14.30L274.42 14.30M272.00 14.30L270.39 15.17M274.42 14.30L276.03 15.17M277.65 14.30L277.65 26.40M270.39 15.17L268.77 16.90M276.03 15.17L277.65 16.90M268.77 16.90L267.97 19.49M267.97 19.49L267.97 21.22M267.97 21.22L268.77 23.81M268.77 23.81L270.39 25.54M277.65 23.81L276.03 25.54M270.39 25.54L272.00 26.40M276.03 25.54L274.42 26.40M272.00 26.40L274.42 26.40M284.10 14.30L284.10 26.40M288.13 14.30L290.55 14.30M288.13 14.30L286.52 15.17M290.55 14.30L292.17 15.17M286.52 15.17L284.10 17.76M292.17 15.17L292.97 17.76M292.97 17.76L292.97 26.40M312.33 8.26L312.33 26.40M318.78 14.30L318.78 26.40M322.81 14.30L325.23 14.30M322.81 14.30L321.20 15.17M325.23 14.30L326.85 15.17M321.20 15.17L318.78 17.76M326.85 15.17L327.65 17.76M327.65 17.76L327.65 26.40M336.53 14.30L338.95 14.30M336.53 14.30L334.11 15.17M338.95 14.30L341.37 15.17M334.11 15.17L333.30 16.90M341.37 15.17L342.17 16.90M333.30 16.90L334.11 18.62M334.11 18.62L335.72 19.49M335.72 19.49L339.75 20.35M339.75 20.35L341.37 21.22M341.37 21.22L342.17 22.94M342.17 22.94L342.17 23.81M333.30 23.81L334.11 25.54M342.17 23.81L341.37 25.54M334.11 25.54L336.53 26.40M341.37 25.54L338.95 26.40M336.53 26.40L338.95 26.40M348.62 8.26L348.62 22.94M346.21 14.30L351.85 14.30M348.62 22.94L349.43 25.54M349.43 25.54L351.04 26.40M351.04 26.40L352.66 26.40M357.50 7.39L356.69 8.26M357.50 7.39L358.30 8.26M356.69 8.26L357.50 9.12M358.30 8.26L357.50 9.12M357.50 14.30L357.50 26.40M364.76 8.26L364.76 22.94M362.34 14.30L367.98 14.30M364.76 22.94L365.56 25.54M365.56 25.54L367.18 26.40M367.18 26.40L368.79 26.40M373.63 14.30L373.63 22.94M382.50 14.30L382.50 26.40M373.63 22.94L374.43 25.54M382.50 22.94L380.08 25.54M374.43 25.54L376.05 26.40M380.08 25.54L378.47 26.40M376.05 26.40L378.47 26.40M389.76 8.26L389.76 22.94M387.34 14.30L392.99 14.30M389.76 22.94L390.57 25.54M390.57 25.54L392.18 26.40M392.18 26.40L393.79 26.40M401.86 14.30L404.28 14.30M401.86 14.30L400.24 15.17M404.28 14.30L405.89 15.17M400.24 15.17L398.63 16.90M405.89 15.17L406.70 16.03M406.70 16.03L407.50 17.76M398.63 16.90L397.83 19.49M407.50 17.76L407.50 19.49M397.83 19.49L407.50 19.49M397.83 19.49L397.83 21.22M397.83 21.22L398.63 23.81M398.63 23.81L400.24 25.54M407.50 23.81L405.89 25.54M400.24 25.54L401.86 26.40M405.89 25.54L404.28 26.40M401.86 26.40L404.28 26.40M429.28 8.26L430.89 8.26M429.28 8.26L427.67 9.12M427.67 9.12L426.86 11.71M426.86 11.71L426.86 26.40M424.44 14.30L430.09 14.30M438.96 14.30L441.38 14.30M438.96 14.30L437.35 15.17M441.38 14.30L442.99 15.17M437.35 15.17L435.73 16.90M442.99 15.17L444.61 16.90M435.73 16.90L434.93 19.49M444.61 16.90L445.41 19.49M434.93 19.49L434.93 21.22M445.41 19.49L445.41 21.22M434.93 21.22L435.73 23.81M445.41 21.22L444.61 23.81M435.73 23.81L437.35 25.54M444.61 23.81L442.99 25.54M437.35 25.54L438.96 26.40M442.99 25.54L441.38 26.40M438.96 26.40L441.38 26.40M451.06 14.30L451.06 26.40M455.09 14.30L457.51 14.30M455.09 14.30L453.48 15.17M453.48 15.17L451.87 16.90M451.87 16.90L451.06 19.49M474.45 8.26L474.45 26.40M474.45 8.26L480.90 26.40M487.35 8.26L480.90 26.40M487.35 8.26L487.35 26.40M497.03 14.30L499.45 14.30M497.03 14.30L495.42 15.17M499.45 14.30L501.07 15.17M495.42 15.17L493.81 16.90M501.07 15.17L501.87 16.03M501.87 16.03L502.68 17.76M493.81 16.90L493.00 19.49M502.68 17.76L502.68 19.49M493.00 19.49L502.68 19.49M493.00 19.49L493.00 21.22M493.00 21.22L493.81 23.81M493.81 23.81L495.42 25.54M502.68 23.81L501.07 25.54M495.42 25.54L497.03 26.40M501.07 25.54L499.45 26.40M497.03 26.40L499.45 26.40M509.13 8.26L509.13 22.94M506.71 14.30L512.36 14.30M509.13 22.94L509.94 25.54M509.94 25.54L511.55 26.40M511.55 26.40L513.16 26.40M521.23 14.30L523.65 14.30M521.23 14.30L519.62 15.17M523.65 14.30L525.26 15.17M519.62 15.17L518.00 16.90M525.26 15.17L526.07 16.03M526.07 16.03L526.88 17.76M518.00 16.90L517.20 19.49M526.88 17.76L526.88 19.49M517.20 19.49L526.88 19.49M517.20 19.49L517.20 21.22M517.20 21.22L518.00 23.81M518.00 23.81L519.62 25.54M526.88 23.81L525.26 25.54M519.62 25.54L521.23 26.40M525.26 25.54L523.65 26.40M521.23 26.40L523.65 26.40M535.75 14.30L538.17 14.30M535.75 14.30L534.13 15.17M538.17 14.30L539.78 15.17M534.13 15.17L532.52 16.90M539.78 15.17L541.39 16.90M532.52 16.90L531.72 19.49M541.39 16.90L542.20 19.49M531.72 19.49L531.72 21.22M542.20 19.49L542.20 21.22M531.72 21.22L532.52 23.81M542.20 21.22L541.39 23.81M532.52 23.81L534.13 25.54M541.39 23.81L539.78 25.54M534.13 25.54L535.75 26.40M539.78 25.54L538.17 26.40M535.75 26.40L538.17 26.40M547.85 14.30L547.85 26.40M551.88 14.30L554.30 14.30M551.88 14.30L550.27 15.17M550.27 15.17L548.65 16.90M548.65 16.90L547.85 19.49M561.56 14.30L563.98 14.30M561.56 14.30L559.94 15.17M563.98 14.30L565.59 15.17M559.94 15.17L558.33 16.90M565.59 15.17L567.20 16.90M558.33 16.90L557.53 19.49M567.20 16.90L568.01 19.49M557.53 19.49L557.53 21.22M568.01 19.49L568.01 21.22M557.53 21.22L558.33 23.81M568.01 21.22L567.20 23.81M558.33 23.81L559.94 25.54M567.20 23.81L565.59 25.54M559.94 25.54L561.56 26.40M565.59 25.54L563.98 26.40M561.56 26.40L563.98 26.40M573.66 8.26L573.66 26.40M583.34 14.30L585.76 14.30M583.34 14.30L581.72 15.17M585.76 14.30L587.37 15.17M581.72 15.17L580.11 16.90M587.37 15.17L588.98 16.90M580.11 16.90L579.30 19.49M588.98 16.90L589.79 19.49M579.30 19.49L579.30 21.22M589.79 19.49L589.79 21.22M579.30 21.22L580.11 23.81M589.79 21.22L588.98 23.81M580.11 23.81L581.72 25.54M588.98 23.81L587.37 25.54M581.72 25.54L583.34 26.40M587.37 25.54L585.76 26.40M583.34 26.40L585.76 26.40M598.66 14.30L601.08 14.30M598.66 14.30L597.05 15.17M601.08 14.30L602.69 15.17M604.31 14.30L604.31 28.13M597.05 15.17L595.43 16.90M602.69 15.17L604.31 16.90M595.43 16.90L594.63 19.49M594.63 19.49L594.63 21.22M594.63 21.22L595.43 23.81M595.43 23.81L597.05 25.54M604.31 23.81L602.69 25.54M597.05 25.54L598.66 26.40M602.69 25.54L601.08 26.40M598.66 26.40L601.08 26.40M604.31 28.13L603.50 30.72M603.50 30.72L602.69 31.58M597.05 31.58L598.66 32.45M602.69 31.58L601.08 32.45M598.66 32.45L601.08 32.45M609.15 14.30L613.98 26.40M618.82 14.30L613.98 26.40M616.40 20.35L613.18 28.13M613.98 26.40L612.37 29.86M612.37 29.86L610.76 31.58M610.76 31.58L609.15 32.45M608.34 32.45L609.15 32.45M639.79 14.30L642.21 14.30M639.79 14.30L638.18 15.17M642.21 14.30L643.83 15.17M645.44 14.30L645.44 26.40M638.18 15.17L636.57 16.90M643.83 15.17L645.44 16.90M636.57 16.90L635.76 19.49M635.76 19.49L635.76 21.22M635.76 21.22L636.57 23.81M636.57 23.81L638.18 25.54M645.44 23.81L643.83 25.54M638.18 25.54L639.79 26.40M643.83 25.54L642.21 26.40M639.79 26.40L642.21 26.40M651.89 14.30L651.89 26.40M655.93 14.30L658.35 14.30M655.93 14.30L654.31 15.17M658.35 14.30L659.96 15.17M654.31 15.17L651.89 17.76M659.96 15.17L660.77 17.76M660.77 17.76L660.77 26.40M676.09 8.26L676.09 26.40M670.44 14.30L672.86 14.30M670.44 14.30L668.83 15.17M672.86 14.30L674.48 15.17M668.83 15.17L667.22 16.90M674.48 15.17L676.09 16.90M667.22 16.90L666.41 19.49M666.41 19.49L666.41 21.22M666.41 21.22L667.22 23.81M667.22 23.81L668.83 25.54M676.09 23.81L674.48 25.54M668.83 25.54L670.44 26.40M674.48 25.54L672.86 26.40M670.44 26.40L672.86 26.40M695.45 8.26L695.45 26.40M706.74 8.26L706.74 26.40M695.45 16.90L706.74 16.90M711.58 14.30L716.42 26.40M721.26 14.30L716.42 26.40M718.84 20.35L715.61 28.13M716.42 26.40L714.81 29.86M714.81 29.86L713.19 31.58M713.19 31.58L711.58 32.45M710.77 32.45L711.58 32.45M734.97 8.26L734.97 26.40M729.32 14.30L731.74 14.30M729.32 14.30L727.71 15.17M731.74 14.30L733.36 15.17M727.71 15.17L726.10 16.90M733.36 15.17L734.97 16.90M726.10 16.90L725.29 19.49M725.29 19.49L725.29 21.22M725.29 21.22L726.10 23.81M726.10 23.81L727.71 25.54M734.97 23.81L733.36 25.54M727.71 25.54L729.32 26.40M733.36 25.54L731.74 26.40M729.32 26.40L731.74 26.40M741.42 14.30L741.42 26.40M745.46 14.30L747.87 14.30M745.46 14.30L743.84 15.17M743.84 15.17L742.23 16.90M742.23 16.90L741.42 19.49M755.13 14.30L757.55 14.30M755.13 14.30L753.52 15.17M757.55 14.30L759.17 15.17M753.52 15.17L751.91 16.90M759.17 15.17L760.78 16.90M751.91 16.90L751.10 19.49M760.78 16.90L761.59 19.49M751.10 19.49L751.10 21.22M761.59 19.49L761.59 21.22M751.10 21.22L751.91 23.81M761.59 21.22L760.78 23.81M751.91 23.81L753.52 25.54M760.78 23.81L759.17 25.54M753.52 25.54L755.13 26.40M759.17 25.54L757.55 26.40M755.13 26.40L757.55 26.40M767.23 8.26L767.23 26.40M776.91 14.30L779.33 14.30M776.91 14.30L775.30 15.17M779.33 14.30L780.94 15.17M775.30 15.17L773.68 16.90M780.94 15.17L782.56 16.90M773.68 16.90L772.88 19.49M782.56 16.90L783.36 19.49M772.88 19.49L772.88 21.22M783.36 19.49L783.36 21.22M772.88 21.22L773.68 23.81M783.36 21.22L782.56 23.81M773.68 23.81L775.30 25.54M782.56 23.81L780.94 25.54M775.30 25.54L776.91 26.40M780.94 25.54L779.33 26.40M776.91 26.40L779.33 26.40M792.24 14.30L794.66 14.30M792.24 14.30L790.62 15.17M794.66 14.30L796.27 15.17M797.88 14.30L797.88 28.13M790.62 15.17L789.01 16.90M796.27 15.17L797.88 16.90M789.01 16.90L788.20 19.49M788.20 19.49L788.20 21.22M788.20 21.22L789.01 23.81M789.01 23.81L790.62 25.54M797.88 23.81L796.27 25.54M790.62 25.54L792.24 26.40M796.27 25.54L794.66 26.40M792.24 26.40L794.66 26.40M797.88 28.13L797.08 30.72M797.08 30.72L796.27 31.58M790.62 31.58L792.24 32.45M796.27 31.58L794.66 32.45M792.24 32.45L794.66 32.45M802.72 14.30L807.56 26.40M812.40 14.30L807.56 26.40M809.98 20.35L806.75 28.13M807.56 26.40L805.95 29.86M805.95 29.86L804.33 31.58M804.33 31.58L802.72 32.45M801.91 32.45L802.72 32.45" fill="none" stroke="#000" stroke-width="1.45" stroke-linecap="round" stroke-linejoin="round" shape-rendering="crispEdges"/>
<path d="M54.70 32.67L61.14 32.67M54.70 32.67L54.70 53.35M61.14 32.67L63.90 33.65M63.90 33.65L65.75 35.62M65.75 35.62L66.67 37.59M66.67 37.59L67.59 40.55M67.59 40.55L67.59 45.47M67.59 45.47L66.67 48.43M66.67 48.43L65.75 50.40M65.75 50.40L63.90 52.37M63.90 52.37L61.14 53.35M54.70 53.35L61.14 53.35M74.03 31.68L73.11 32.67M74.03 31.68L74.95 32.67M73.11 32.67L74.03 33.65M74.95 32.67L74.03 33.65M74.03 39.56L74.03 53.35M84.15 39.56L86.92 39.56M84.15 39.56L81.39 40.55M86.92 39.56L89.68 40.55M81.39 40.55L80.47 42.52M89.68 40.55L90.60 42.52M80.47 42.52L81.39 44.48M81.39 44.48L83.23 45.47M83.23 45.47L87.84 46.45M87.84 46.45L89.68 47.44M89.68 47.44L90.60 49.41M90.60 49.41L90.60 50.40M80.47 50.40L81.39 52.37M90.60 50.40L89.68 52.37M81.39 52.37L84.15 53.35M89.68 52.37L86.92 53.35M84.15 53.35L86.92 53.35M100.72 39.56L103.48 39.56M100.72 39.56L98.88 40.55M103.48 39.56L105.33 40.55M107.17 39.56L107.17 53.35M98.88 40.55L97.04 42.52M105.33 40.55L107.17 42.52M97.04 42.52L96.12 45.47M96.12 45.47L96.12 47.44M96.12 47.44L97.04 50.40M97.04 50.40L98.88 52.37M107.17 50.40L105.33 52.37M98.88 52.37L100.72 53.35M105.33 52.37L103.48 53.35M100.72 53.35L103.48 53.35M118.21 39.56L120.97 39.56M118.21 39.56L116.37 40.55M120.97 39.56L122.81 40.55M124.65 39.56L124.65 55.32M116.37 40.55L114.53 42.52M122.81 40.55L124.65 42.52M114.53 42.52L113.61 45.47M113.61 45.47L113.61 47.44M113.61 47.44L114.53 50.40M114.53 50.40L116.37 52.37M124.65 50.40L122.81 52.37M116.37 52.37L118.21 53.35M122.81 52.37L120.97 53.35M118.21 53.35L120.97 53.35M124.65 55.32L123.73 58.27M123.73 58.27L122.81 59.26M116.37 59.26L118.21 60.25M122.81 59.26L120.97 60.25M118.21 60.25L120.97 60.25M135.70 39.56L138.46 39.56M135.70 39.56L133.86 40.55M138.46 39.56L140.30 40.55M142.14 39.56L142.14 55.32M133.86 40.55L132.02 42.52M140.30 40.55L142.14 42.52M132.02 42.52L131.10 45.47M131.10 45.47L131.10 47.44M131.10 47.44L132.02 50.40M132.02 50.40L133.86 52.37M142.14 50.40L140.30 52.37M133.86 52.37L135.70 53.35M140.30 52.37L138.46 53.35M135.70 53.35L138.46 53.35M142.14 55.32L141.22 58.27M141.22 58.27L140.30 59.26M133.86 59.26L135.70 60.25M140.30 59.26L138.46 60.25M135.70 60.25L138.46 60.25M149.51 39.56L149.51 53.35M154.11 39.56L156.87 39.56M154.11 39.56L152.27 40.55M152.27 40.55L150.43 42.52M150.43 42.52L149.51 45.47M165.15 39.56L167.92 39.56M165.15 39.56L163.31 40.55M167.92 39.56L169.76 40.55M163.31 40.55L161.47 42.52M169.76 40.55L170.68 41.53M170.68 41.53L171.60 43.50M161.47 42.52L160.55 45.47M171.60 43.50L171.60 45.47M160.55 45.47L171.60 45.47M160.55 45.47L160.55 47.44M160.55 47.44L161.47 50.40M161.47 50.40L163.31 52.37M171.60 50.40L169.76 52.37M163.31 52.37L165.15 53.35M169.76 52.37L167.92 53.35M165.15 53.35L167.92 53.35M181.72 39.56L184.48 39.56M181.72 39.56L179.88 40.55M184.48 39.56L186.33 40.55M188.17 39.56L188.17 55.32M179.88 40.55L178.04 42.52M186.33 40.55L188.17 42.52M178.04 42.52L177.12 45.47M177.12 45.47L177.12 47.44M177.12 47.44L178.04 50.40M178.04 50.40L179.88 52.37M188.17 50.40L186.33 52.37M179.88 52.37L181.72 53.35M186.33 52.37L184.48 53.35M181.72 53.35L184.48 53.35M188.17 55.32L187.25 58.27M187.25 58.27L186.33 59.26M179.88 59.26L181.72 60.25M186.33 59.26L184.48 60.25M181.72 60.25L184.48 60.25M199.21 39.56L201.97 39.56M199.21 39.56L197.37 40.55M201.97 39.56L203.81 40.55M205.65 39.56L205.65 53.35M197.37 40.55L195.53 42.52M203.81 40.55L205.65 42.52M195.53 42.52L194.61 45.47M194.61 45.47L194.61 47.44M194.61 47.44L195.53 50.40M195.53 50.40L197.37 52.37M205.65 50.40L203.81 52.37M197.37 52.37L199.21 53.35M203.81 52.37L201.97 53.35M199.21 53.35L201.97 53.35M213.94 32.67L213.94 49.41M211.18 39.56L217.62 39.56M213.94 49.41L214.86 52.37M214.86 52.37L216.70 53.35M216.70 53.35L218.54 53.35M227.75 39.56L230.51 39.56M227.75 39.56L225.90 40.55M230.51 39.56L232.35 40.55M225.90 40.55L224.06 42.52M232.35 40.55L233.27 41.53M233.27 41.53L234.19 43.50M224.06 42.52L223.14 45.47M234.19 43.50L234.19 45.47M223.14 45.47L234.19 45.47M223.14 45.47L223.14 47.44M223.14 47.44L224.06 50.40M224.06 50.40L225.90 52.37M234.19 50.40L232.35 52.37M225.90 52.37L227.75 53.35M232.35 52.37L230.51 53.35M227.75 53.35L230.51 53.35M250.76 32.67L250.76 53.35M244.31 39.56L247.08 39.56M244.31 39.56L242.47 40.55M247.08 39.56L248.92 40.55M242.47 40.55L240.63 42.52M248.92 40.55L250.76 42.52M240.63 42.52L239.71 45.47M239.71 45.47L239.71 47.44M239.71 47.44L240.63 50.40M240.63 50.40L242.47 52.37M250.76 50.40L248.92 52.37M242.47 52.37L244.31 53.35M248.92 52.37L247.08 53.35M244.31 53.35L247.08 53.35M272.85 39.56L272.85 60.25M276.53 39.56L279.29 39.56M276.53 39.56L274.69 40.55M279.29 39.56L281.13 40.55M274.69 40.55L272.85 42.52M281.13 40.55L282.97 42.52M282.97 42.52L283.89 45.47M283.89 45.47L283.89 47.44M283.89 47.44L282.97 50.40M272.85 50.40L274.69 52.37M282.97 50.40L281.13 52.37M274.69 52.37L276.53 53.35M281.13 52.37L279.29 53.35M276.53 53.35L279.29 53.35M290.34 39.56L290.34 53.35M294.94 39.56L297.70 39.56M294.94 39.56L293.10 40.55M293.10 40.55L291.26 42.52M291.26 42.52L290.34 45.47M305.98 39.56L308.75 39.56M305.98 39.56L304.14 40.55M308.75 39.56L310.59 40.55M304.14 40.55L302.30 42.52M310.59 40.55L311.51 41.53M311.51 41.53L312.43 43.50M302.30 42.52L301.38 45.47M312.43 43.50L312.43 45.47M301.38 45.47L312.43 45.47M301.38 45.47L301.38 47.44M301.38 47.44L302.30 50.40M302.30 50.40L304.14 52.37M312.43 50.40L310.59 52.37M304.14 52.37L305.98 53.35M310.59 52.37L308.75 53.35M305.98 53.35L308.75 53.35M322.55 39.56L325.31 39.56M322.55 39.56L320.71 40.55M325.31 39.56L327.15 40.55M320.71 40.55L318.87 42.52M327.15 40.55L329.00 42.52M318.87 42.52L317.95 45.47M317.95 45.47L317.95 47.44M317.95 47.44L318.87 50.40M318.87 50.40L320.71 52.37M329.00 50.40L327.15 52.37M320.71 52.37L322.55 53.35M327.15 52.37L325.31 53.35M322.55 53.35L325.31 53.35M335.44 31.68L334.52 32.67M335.44 31.68L336.36 32.67M334.52 32.67L335.44 33.65M336.36 32.67L335.44 33.65M335.44 39.56L335.44 53.35M342.80 39.56L342.80 60.25M346.48 39.56L349.25 39.56M346.48 39.56L344.64 40.55M349.25 39.56L351.09 40.55M344.64 40.55L342.80 42.52M351.09 40.55L352.93 42.52M352.93 42.52L353.85 45.47M353.85 45.47L353.85 47.44M353.85 47.44L352.93 50.40M342.80 50.40L344.64 52.37M352.93 50.40L351.09 52.37M344.64 52.37L346.48 53.35M351.09 52.37L349.25 53.35M346.48 53.35L349.25 53.35M360.29 31.68L359.37 32.67M360.29 31.68L361.21 32.67M359.37 32.67L360.29 33.65M361.21 32.67L360.29 33.65M360.29 39.56L360.29 53.35M368.57 32.67L368.57 49.41M365.81 39.56L372.26 39.56M368.57 49.41L369.50 52.37M369.50 52.37L371.34 53.35M371.34 53.35L373.18 53.35M382.38 39.56L385.14 39.56M382.38 39.56L380.54 40.55M385.14 39.56L386.98 40.55M388.82 39.56L388.82 53.35M380.54 40.55L378.70 42.52M386.98 40.55L388.82 42.52M378.70 42.52L377.78 45.47M377.78 45.47L377.78 47.44M377.78 47.44L378.70 50.40M378.70 50.40L380.54 52.37M388.82 50.40L386.98 52.37M380.54 52.37L382.38 53.35M386.98 52.37L385.14 53.35M382.38 53.35L385.14 53.35M397.11 32.67L397.11 49.41M394.35 39.56L400.79 39.56M397.11 49.41L398.03 52.37M398.03 52.37L399.87 53.35M399.87 53.35L401.71 53.35M407.23 31.68L406.31 32.67M407.23 31.68L408.15 32.67M406.31 32.67L407.23 33.65M408.15 32.67L407.23 33.65M407.23 39.56L407.23 53.35M418.28 39.56L421.04 39.56M418.28 39.56L416.44 40.55M421.04 39.56L422.88 40.55M416.44 40.55L414.60 42.52M422.88 40.55L424.72 42.52M414.60 42.52L413.68 45.47M424.72 42.52L425.64 45.47M413.68 45.47L413.68 47.44M425.64 45.47L425.64 47.44M413.68 47.44L414.60 50.40M425.64 47.44L424.72 50.40M414.60 50.40L416.44 52.37M424.72 50.40L422.88 52.37M416.44 52.37L418.28 53.35M422.88 52.37L421.04 53.35M418.28 53.35L421.04 53.35M432.09 39.56L432.09 53.35M436.69 39.56L439.45 39.56M436.69 39.56L434.85 40.55M439.45 39.56L441.29 40.55M434.85 40.55L432.09 43.50M441.29 40.55L442.21 43.50M442.21 43.50L442.21 53.35M456.02 28.73L454.18 30.70M454.18 30.70L452.34 33.65M452.34 33.65L450.50 37.59M450.50 37.59L449.57 42.52M449.57 42.52L449.57 46.45M449.57 46.45L450.50 51.38M450.50 51.38L452.34 55.32M452.34 55.32L454.18 58.27M454.18 58.27L456.02 60.25M462.46 39.56L462.46 53.35M467.06 39.56L469.82 39.56M467.06 39.56L465.22 40.55M469.82 39.56L471.67 40.55M477.19 39.56L479.95 39.56M477.19 39.56L475.35 40.55M479.95 39.56L481.79 40.55M465.22 40.55L462.46 43.50M471.67 40.55L472.59 43.50M475.35 40.55L472.59 43.50M481.79 40.55L482.71 43.50M472.59 43.50L472.59 53.35M482.71 43.50L482.71 53.35M490.07 39.56L490.07 53.35M494.68 39.56L497.44 39.56M494.68 39.56L492.84 40.55M497.44 39.56L499.28 40.55M504.80 39.56L507.56 39.56M504.80 39.56L502.96 40.55M507.56 39.56L509.40 40.55M492.84 40.55L490.07 43.50M499.28 40.55L500.20 43.50M502.96 40.55L500.20 43.50M509.40 40.55L510.32 43.50M500.20 43.50L500.20 53.35M510.32 43.50L510.32 53.35M516.77 28.73L518.61 30.70M518.61 30.70L520.45 33.65M520.45 33.65L522.29 37.59M522.29 37.59L523.21 42.52M523.21 42.52L523.21 46.45M523.21 46.45L522.29 51.38M522.29 51.38L520.45 55.32M520.45 55.32L518.61 58.27M518.61 58.27L516.77 60.25M548.98 32.67L552.67 32.67M548.98 32.67L546.22 33.65M552.67 32.67L555.43 33.65M546.22 33.65L544.38 35.62M555.43 33.65L557.27 35.62M544.38 35.62L544.38 37.59M544.38 37.59L545.30 39.56M545.30 39.56L546.22 40.55M546.22 40.55L548.06 41.53M548.06 41.53L553.59 43.50M553.59 43.50L555.43 44.48M555.43 44.48L556.35 45.47M556.35 45.47L557.27 47.44M557.27 47.44L557.27 50.40M544.38 50.40L546.22 52.37M557.27 50.40L555.43 52.37M546.22 52.37L548.98 53.35M555.43 52.37L552.67 53.35M548.98 53.35L552.67 53.35M563.71 32.67L563.71 53.35M576.60 32.67L563.71 46.45M568.31 41.53L576.60 53.35M583.04 32.67L583.04 53.35M583.04 32.67L595.93 53.35M595.93 32.67L595.93 53.35M615.26 32.67L622.62 53.35M629.98 32.67L622.62 53.35M638.27 39.56L641.03 39.56M638.27 39.56L636.43 40.55M641.03 39.56L642.87 40.55M644.71 39.56L644.71 53.35M636.43 40.55L634.59 42.52M642.87 40.55L644.71 42.52M634.59 42.52L633.67 45.47M633.67 45.47L633.67 47.44M633.67 47.44L634.59 50.40M634.59 50.40L636.43 52.37M644.71 50.40L642.87 52.37M636.43 52.37L638.27 53.35M642.87 52.37L641.03 53.35M638.27 53.35L641.03 53.35M652.07 32.67L652.07 53.35M659.44 31.68L658.52 32.67M659.44 31.68L660.36 32.67M658.52 32.67L659.44 33.65M660.36 32.67L659.44 33.65M659.44 39.56L659.44 53.35M676.93 32.67L676.93 53.35M670.48 39.56L673.25 39.56M670.48 39.56L668.64 40.55M673.25 39.56L675.09 40.55M668.64 40.55L666.80 42.52M675.09 40.55L676.93 42.52M666.80 42.52L665.88 45.47M665.88 45.47L665.88 47.44M665.88 47.44L666.80 50.40M666.80 50.40L668.64 52.37M676.93 50.40L675.09 52.37M668.64 52.37L670.48 53.35M675.09 52.37L673.25 53.35M670.48 53.35L673.25 53.35M703.62 32.67L705.46 32.67M703.62 32.67L700.86 33.65M705.46 32.67L708.22 33.65M700.86 33.65L699.02 36.61M708.22 33.65L710.06 36.61M699.02 36.61L698.10 41.53M710.06 36.61L710.98 41.53M698.10 41.53L698.10 44.48M710.98 41.53L710.98 44.48M698.10 44.48L699.02 49.41M710.98 44.48L710.06 49.41M699.02 49.41L700.86 52.37M710.06 49.41L708.22 52.37M700.86 52.37L703.62 53.35M708.22 52.37L705.46 53.35M703.62 53.35L705.46 53.35M718.35 32.67L728.47 32.67M728.47 32.67L722.95 40.55M722.95 40.55L725.71 40.55M725.71 40.55L727.55 41.53M727.55 41.53L728.47 42.52M728.47 42.52L729.39 45.47M729.39 45.47L729.39 47.44M729.39 47.44L728.47 50.40M716.51 49.41L717.43 51.38M728.47 50.40L726.63 52.37M717.43 51.38L718.35 52.37M718.35 52.37L721.11 53.35M726.63 52.37L723.87 53.35M721.11 53.35L723.87 53.35M734.92 32.67L747.80 32.67M747.80 32.67L734.92 53.35M734.92 53.35L747.80 53.35M773.57 32.67L775.42 32.67M773.57 32.67L770.81 33.65M775.42 32.67L778.18 33.65M770.81 33.65L768.97 36.61M778.18 33.65L780.02 36.61M768.97 36.61L768.05 41.53M780.02 36.61L780.94 41.53M768.05 41.53L768.05 44.48M780.94 41.53L780.94 44.48M768.05 44.48L768.97 49.41M780.94 44.48L780.02 49.41M768.97 49.41L770.81 52.37M780.02 49.41L778.18 52.37M770.81 52.37L773.57 53.35M778.18 52.37L775.42 53.35M773.57 53.35L775.42 53.35M791.06 32.67L794.75 32.67M791.06 32.67L788.30 33.65M794.75 32.67L797.51 33.65M788.30 33.65L787.38 35.62M797.51 33.65L798.43 35.62M787.38 35.62L787.38 37.59M798.43 35.62L798.43 37.59M787.38 37.59L788.30 39.56M798.43 37.59L797.51 39.56M788.30 39.56L790.14 40.55M797.51 39.56L795.67 40.55M790.14 40.55L793.82 41.53M795.67 40.55L791.98 41.53M791.98 41.53L789.22 42.52M793.82 41.53L796.59 42.52M789.22 42.52L787.38 44.48M796.59 42.52L798.43 44.48M787.38 44.48L786.46 46.45M798.43 44.48L799.35 46.45M786.46 46.45L786.46 49.41M799.35 46.45L799.35 49.41M786.46 49.41L787.38 51.38M799.35 49.41L798.43 51.38M787.38 51.38L788.30 52.37M798.43 51.38L797.51 52.37M788.30 52.37L791.06 53.35M797.51 52.37L794.75 53.35M791.06 53.35L794.75 53.35M820.52 28.73L803.95 60.25M830.64 32.67L832.48 32.67M830.64 32.67L827.88 33.65M832.48 32.67L835.25 33.65M827.88 33.65L826.04 36.61M835.25 33.65L837.09 36.61M826.04 36.61L825.12 41.53M837.09 36.61L838.01 41.53M825.12 41.53L825.12 44.48M838.01 41.53L838.01 44.48M825.12 44.48L826.04 49.41M838.01 44.48L837.09 49.41M826.04 49.41L827.88 52.37M837.09 49.41L835.25 52.37M827.88 52.37L830.64 53.35M835.25 52.37L832.48 53.35M830.64 53.35L832.48 53.35M845.37 32.67L854.57 32.67M845.37 32.67L844.45 41.53M848.13 39.56L850.89 39.56M848.13 39.56L845.37 40.55M850.89 39.56L853.65 40.55M845.37 40.55L844.45 41.53M853.65 40.55L855.50 42.52M855.50 42.52L856.42 45.47M856.42 45.47L856.42 47.44M856.42 47.44L855.50 50.40M843.53 49.41L844.45 51.38M855.50 50.40L853.65 52.37M844.45 51.38L845.37 52.37M845.37 52.37L848.13 53.35M853.65 52.37L850.89 53.35M848.13 53.35L850.89 53.35M881.27 32.67L884.95 32.67M881.27 32.67L879.43 33.65M884.95 32.67L886.79 33.65M879.43 33.65L878.51 34.64M886.79 33.65L887.71 34.64M878.51 34.64L877.59 36.61M887.71 34.64L888.63 36.61M877.59 36.61L877.59 37.59M888.63 36.61L888.63 38.58M888.63 38.58L887.71 40.55M887.71 40.55L885.87 43.50M885.87 43.50L876.67 53.35M876.67 53.35L889.55 53.35M900.60 32.67L902.44 32.67M900.60 32.67L897.84 33.65M902.44 32.67L905.20 33.65M897.84 33.65L896.00 36.61M905.20 33.65L907.04 36.61M896.00 36.61L895.07 41.53M907.04 36.61L907.96 41.53M895.07 41.53L895.07 44.48M907.96 41.53L907.96 44.48M895.07 44.48L896.00 49.41M907.96 44.48L907.04 49.41M896.00 49.41L897.84 52.37M907.04 49.41L905.20 52.37M897.84 52.37L900.60 53.35M905.20 52.37L902.44 53.35M900.60 53.35L902.44 53.35M918.09 32.67L921.77 32.67M918.09 32.67L916.25 33.65M921.77 32.67L923.61 33.65M916.25 33.65L915.32 34.64M923.61 33.65L924.53 34.64M915.32 34.64L914.40 36.61M924.53 34.64L925.45 36.61M914.40 36.61L914.40 37.59M925.45 36.61L925.45 38.58M925.45 38.58L924.53 40.55M924.53 40.55L922.69 43.50M922.69 43.50L913.48 53.35M913.48 53.35L926.37 53.35M941.10 32.67L931.89 46.45M941.10 32.67L941.10 53.35M931.89 46.45L945.70 46.45" fill="none" stroke="#000" stroke-width="1.5" stroke-linecap="round" stroke-linejoin="round" shape-rendering="crispEdges"/>
<rect x="908.5" y="649.73" width="18.2" height="35.57" fill="#808080" stroke="#000" stroke-width="1"/>
<rect x="908.5" y="614.16" width="18.2" height="35.57" fill="#a000c8" stroke="#000" stroke-width="1"/>
<rect x="908.5" y="578.59" width="18.2" height="35.57" fill="#8200dc" stroke="#000" stroke-width="1"/>
<rect x="908.5" y="543.02" width="18.2" height="35.57" fill="#5028ff" stroke="#000" stroke-width="1"/>
<rect x="908.5" y="507.46" width="18.2" height="35.57" fill="#1e3cff" stroke="#000" stroke-width="1"/>
<rect x="908.5" y="471.89" width="18.2" height="35.57" fill="#00a0ff" stroke="#000" stroke-width="1"/>
<rect x="908.5" y="436.32" width="18.2" height="35.57" fill="#00c8c8" stroke="#000" stroke-width="1"/>
<rect x="908.5" y="400.75" width="18.2" height="35.57" fill="#00d28c" stroke="#000" stroke-width="1"/>
<rect x="908.5" y="365.18" width="18.2" height="35.57" fill="#00dc00" stroke="#000" stroke-width="1"/>
<rect x="908.5" y="329.61" width="18.2" height="35.57" fill="#a0e632" stroke="#000" stroke-width="1"/>
<rect x="908.5" y="294.04" width="18.2" height="35.57" fill="#e6dc32" stroke="#000" stroke-width="1"/>
<rect x="908.5" y="258.48" width="18.2" height="35.57" fill="#e6af2d" stroke="#000" stroke-width="1"/>
<rect x="908.5" y="222.91" width="18.2" height="35.57" fill="#f08228" stroke="#000" stroke-width="1"/>
<rect x="908.5" y="187.34" width="18.2" height="35.57" fill="#ffaaaa" stroke="#000" stroke-width="1"/>
<rect x="908.5" y="151.77" width="18.2" height="35.57" fill="#ff0000" stroke="#000" stroke-width="1"/>
<rect x="908.5" y="116.20" width="18.2" height="35.57" fill="#fa3c3c" stroke="#000" stroke-width="1"/>
<polygon points="908.5,116.2 926.7,116.2 917.6,80.5" fill="#f00082" stroke="#000" stroke-width="1" stroke-linejoin="miter"/>
<polygon points="908.5,685.3 926.7,685.3 917.6,720.0" fill="#fff" stroke="#000" stroke-width="1"/>
<path d="M935.72 679.54L936.78 679.54M935.72 679.54L934.11 680.10M936.78 679.54L938.39 680.10M934.11 680.10L933.04 681.78M938.39 680.10L939.46 681.78M933.04 681.78L932.50 684.58M939.46 681.78L940.00 684.58M932.50 684.58L932.50 686.26M940.00 684.58L940.00 686.26M932.50 686.26L933.04 689.06M940.00 686.26L939.46 689.06M933.04 689.06L934.11 690.74M939.46 689.06L938.39 690.74M934.11 690.74L935.72 691.30M938.39 690.74L936.78 691.30M935.72 691.30L936.78 691.30M944.27 690.18L943.74 690.74M944.27 690.18L944.81 690.74M943.74 690.74L944.27 691.30M944.81 690.74L944.27 691.30M949.62 679.54L954.98 679.54M949.62 679.54L949.09 684.58M951.23 683.46L952.84 683.46M951.23 683.46L949.62 684.02M952.84 683.46L954.44 684.02M949.62 684.02L949.09 684.58M954.44 684.02L955.51 685.14M955.51 685.14L956.04 686.82M956.04 686.82L956.04 687.94M956.04 687.94L955.51 689.62M948.55 689.06L949.09 690.18M955.51 689.62L954.44 690.74M949.09 690.18L949.62 690.74M949.62 690.74L951.23 691.30M954.44 690.74L952.84 691.30M951.23 691.30L952.84 691.30" fill="none" stroke="#000" stroke-width="1.15" stroke-linecap="round" stroke-linejoin="round" shape-rendering="crispEdges"/>
<path d="M936.78 643.97L935.18 645.65M936.78 643.97L936.78 655.73M935.18 645.65L934.11 646.21" fill="none" stroke="#000" stroke-width="1.15" stroke-linecap="round" stroke-linejoin="round" shape-rendering="crispEdges"/>
<path d="M935.18 608.40L937.32 608.40M935.18 608.40L934.11 608.96M937.32 608.40L938.39 608.96M934.11 608.96L933.57 609.52M938.39 608.96L938.92 609.52M933.57 609.52L933.04 610.64M938.92 609.52L939.46 610.64M933.04 610.64L933.04 611.20M939.46 610.64L939.46 611.76M939.46 611.76L938.92 612.88M938.92 612.88L937.86 614.56M937.86 614.56L932.50 620.16M932.50 620.16L940.00 620.16" fill="none" stroke="#000" stroke-width="1.15" stroke-linecap="round" stroke-linejoin="round" shape-rendering="crispEdges"/>
<path d="M933.57 572.83L938.92 572.83M933.57 572.83L933.04 577.87M935.18 576.75L936.78 576.75M935.18 576.75L933.57 577.31M936.78 576.75L938.39 577.31M933.57 577.31L933.04 577.87M938.39 577.31L939.46 578.43M939.46 578.43L940.00 580.11M940.00 580.11L940.00 581.23M940.00 581.23L939.46 582.91M932.50 582.35L933.04 583.47M939.46 582.91L938.39 584.03M933.04 583.47L933.57 584.03M933.57 584.03L935.18 584.59M938.39 584.03L936.78 584.59M935.18 584.59L936.78 584.59" fill="none" stroke="#000" stroke-width="1.15" stroke-linecap="round" stroke-linejoin="round" shape-rendering="crispEdges"/>
<path d="M936.78 537.26L935.18 538.94M936.78 537.26L936.78 549.02M935.18 538.94L934.11 539.50M946.41 537.26L947.49 537.26M946.41 537.26L944.81 537.82M947.49 537.26L949.09 537.82M944.81 537.82L943.74 539.50M949.09 537.82L950.16 539.50M943.74 539.50L943.20 542.30M950.16 539.50L950.69 542.30M943.20 542.30L943.20 543.99M950.69 542.30L950.69 543.99M943.20 543.99L943.74 546.78M950.69 543.99L950.16 546.78M943.74 546.78L944.81 548.47M950.16 546.78L949.09 548.47M944.81 548.47L946.41 549.02M949.09 548.47L947.49 549.02M946.41 549.02L947.49 549.02" fill="none" stroke="#000" stroke-width="1.15" stroke-linecap="round" stroke-linejoin="round" shape-rendering="crispEdges"/>
<path d="M936.78 501.70L935.18 503.38M936.78 501.70L936.78 513.46M935.18 503.38L934.11 503.94M944.27 501.70L949.62 501.70M944.27 501.70L943.74 506.74M945.88 505.62L947.49 505.62M945.88 505.62L944.27 506.18M947.49 505.62L949.09 506.18M944.27 506.18L943.74 506.74M949.09 506.18L950.16 507.30M950.16 507.30L950.69 508.98M950.69 508.98L950.69 510.10M950.69 510.10L950.16 511.78M943.20 511.22L943.74 512.34M950.16 511.78L949.09 512.90M943.74 512.34L944.27 512.90M944.27 512.90L945.88 513.46M949.09 512.90L947.49 513.46M945.88 513.46L947.49 513.46" fill="none" stroke="#000" stroke-width="1.15" stroke-linecap="round" stroke-linejoin="round" shape-rendering="crispEdges"/>
<path d="M935.18 466.13L937.32 466.13M935.18 466.13L934.11 466.69M937.32 466.13L938.39 466.69M934.11 466.69L933.57 467.25M938.39 466.69L938.92 467.25M933.57 467.25L933.04 468.37M938.92 467.25L939.46 468.37M933.04 468.37L933.04 468.93M939.46 468.37L939.46 469.49M939.46 469.49L938.92 470.61M938.92 470.61L937.86 472.29M937.86 472.29L932.50 477.89M932.50 477.89L940.00 477.89M946.41 466.13L947.49 466.13M946.41 466.13L944.81 466.69M947.49 466.13L949.09 466.69M944.81 466.69L943.74 468.37M949.09 466.69L950.16 468.37M943.74 468.37L943.20 471.17M950.16 468.37L950.69 471.17M943.20 471.17L943.20 472.85M950.69 471.17L950.69 472.85M943.20 472.85L943.74 475.65M950.69 472.85L950.16 475.65M943.74 475.65L944.81 477.33M950.16 475.65L949.09 477.33M944.81 477.33L946.41 477.89M949.09 477.33L947.49 477.89M946.41 477.89L947.49 477.89" fill="none" stroke="#000" stroke-width="1.15" stroke-linecap="round" stroke-linejoin="round" shape-rendering="crispEdges"/>
<path d="M935.18 430.56L937.32 430.56M935.18 430.56L934.11 431.12M937.32 430.56L938.39 431.12M934.11 431.12L933.57 431.68M938.39 431.12L938.92 431.68M933.57 431.68L933.04 432.80M938.92 431.68L939.46 432.80M933.04 432.80L933.04 433.36M939.46 432.80L939.46 433.92M939.46 433.92L938.92 435.04M938.92 435.04L937.86 436.72M937.86 436.72L932.50 442.32M932.50 442.32L940.00 442.32M944.27 430.56L949.62 430.56M944.27 430.56L943.74 435.60M945.88 434.48L947.49 434.48M945.88 434.48L944.27 435.04M947.49 434.48L949.09 435.04M944.27 435.04L943.74 435.60M949.09 435.04L950.16 436.16M950.16 436.16L950.69 437.84M950.69 437.84L950.69 438.96M950.69 438.96L950.16 440.64M943.20 440.08L943.74 441.20M950.16 440.64L949.09 441.76M943.74 441.20L944.27 441.76M944.27 441.76L945.88 442.32M949.09 441.76L947.49 442.32M945.88 442.32L947.49 442.32" fill="none" stroke="#000" stroke-width="1.15" stroke-linecap="round" stroke-linejoin="round" shape-rendering="crispEdges"/>
<path d="M933.57 394.99L939.46 394.99M939.46 394.99L936.25 399.47M936.25 399.47L937.86 399.47M937.86 399.47L938.92 400.03M938.92 400.03L939.46 400.59M939.46 400.59L940.00 402.27M940.00 402.27L940.00 403.39M940.00 403.39L939.46 405.07M932.50 404.51L933.04 405.63M939.46 405.07L938.39 406.19M933.04 405.63L933.57 406.19M933.57 406.19L935.18 406.75M938.39 406.19L936.78 406.75M935.18 406.75L936.78 406.75M946.41 394.99L947.49 394.99M946.41 394.99L944.81 395.55M947.49 394.99L949.09 395.55M944.81 395.55L943.74 397.23M949.09 395.55L950.16 397.23M943.74 397.23L943.20 400.03M950.16 397.23L950.69 400.03M943.20 400.03L943.20 401.71M950.69 400.03L950.69 401.71M943.20 401.71L943.74 404.51M950.69 401.71L950.16 404.51M943.74 404.51L944.81 406.19M950.16 404.51L949.09 406.19M944.81 406.19L946.41 406.75M949.09 406.19L947.49 406.75M946.41 406.75L947.49 406.75" fill="none" stroke="#000" stroke-width="1.15" stroke-linecap="round" stroke-linejoin="round" shape-rendering="crispEdges"/>
<path d="M933.57 359.42L939.46 359.42M939.46 359.42L936.25 363.90M936.25 363.90L937.86 363.90M937.86 363.90L938.92 364.46M938.92 364.46L939.46 365.02M939.46 365.02L940.00 366.70M940.00 366.70L940.00 367.82M940.00 367.82L939.46 369.50M932.50 368.94L933.04 370.06M939.46 369.50L938.39 370.62M933.04 370.06L933.57 370.62M933.57 370.62L935.18 371.18M938.39 370.62L936.78 371.18M935.18 371.18L936.78 371.18M944.27 359.42L949.62 359.42M944.27 359.42L943.74 364.46M945.88 363.34L947.49 363.34M945.88 363.34L944.27 363.90M947.49 363.34L949.09 363.90M944.27 363.90L943.74 364.46M949.09 363.90L950.16 365.02M950.16 365.02L950.69 366.70M950.69 366.70L950.69 367.82M950.69 367.82L950.16 369.50M943.20 368.94L943.74 370.06M950.16 369.50L949.09 370.62M943.74 370.06L944.27 370.62M944.27 370.62L945.88 371.18M949.09 370.62L947.49 371.18M945.88 371.18L947.49 371.18" fill="none" stroke="#000" stroke-width="1.15" stroke-linecap="round" stroke-linejoin="round" shape-rendering="crispEdges"/>
<path d="M937.86 323.85L932.50 331.69M937.86 323.85L937.86 335.61M932.50 331.69L940.53 331.69M946.41 323.85L947.49 323.85M946.41 323.85L944.81 324.41M947.49 323.85L949.09 324.41M944.81 324.41L943.74 326.09M949.09 324.41L950.16 326.09M943.74 326.09L943.20 328.89M950.16 326.09L950.69 328.89M943.20 328.89L943.20 330.57M950.69 328.89L950.69 330.57M943.20 330.57L943.74 333.37M950.69 330.57L950.16 333.37M943.74 333.37L944.81 335.05M950.16 333.37L949.09 335.05M944.81 335.05L946.41 335.61M949.09 335.05L947.49 335.61M946.41 335.61L947.49 335.61" fill="none" stroke="#000" stroke-width="1.15" stroke-linecap="round" stroke-linejoin="round" shape-rendering="crispEdges"/>
<path d="M933.57 288.28L938.92 288.28M933.57 288.28L933.04 293.32M935.18 292.20L936.78 292.20M935.18 292.20L933.57 292.76M936.78 292.20L938.39 292.76M933.57 292.76L933.04 293.32M938.39 292.76L939.46 293.88M939.46 293.88L940.00 295.56M940.00 295.56L940.00 296.68M940.00 296.68L939.46 298.36M932.50 297.80L933.04 298.92M939.46 298.36L938.39 299.48M933.04 298.92L933.57 299.48M933.57 299.48L935.18 300.04M938.39 299.48L936.78 300.04M935.18 300.04L936.78 300.04M946.41 288.28L947.49 288.28M946.41 288.28L944.81 288.84M947.49 288.28L949.09 288.84M944.81 288.84L943.74 290.52M949.09 288.84L950.16 290.52M943.74 290.52L943.20 293.32M950.16 290.52L950.69 293.32M943.20 293.32L943.20 295.00M950.69 293.32L950.69 295.00M943.20 295.00L943.74 297.80M950.69 295.00L950.16 297.80M943.74 297.80L944.81 299.48M950.16 297.80L949.09 299.48M944.81 299.48L946.41 300.04M949.09 299.48L947.49 300.04M946.41 300.04L947.49 300.04" fill="none" stroke="#000" stroke-width="1.15" stroke-linecap="round" stroke-linejoin="round" shape-rendering="crispEdges"/>
<path d="M936.25 252.72L937.32 252.72M936.25 252.72L934.64 253.28M937.32 252.72L938.92 253.28M934.64 253.28L933.57 254.96M938.92 253.28L939.46 254.40M933.57 254.96L933.04 257.75M936.25 257.20L936.78 257.20M936.25 257.20L934.64 257.75M936.78 257.20L938.39 257.75M933.04 257.75L933.04 260.56M934.64 257.75L933.57 258.88M938.39 257.75L939.46 258.88M933.57 258.88L933.04 260.56M939.46 258.88L940.00 260.56M933.04 260.56L933.57 262.80M940.00 260.56L940.00 261.12M940.00 261.12L939.46 262.80M933.57 262.80L934.64 263.92M939.46 262.80L938.39 263.92M934.64 263.92L936.25 264.48M938.39 263.92L936.78 264.48M936.25 264.48L936.78 264.48M946.41 252.72L947.49 252.72M946.41 252.72L944.81 253.28M947.49 252.72L949.09 253.28M944.81 253.28L943.74 254.96M949.09 253.28L950.16 254.96M943.74 254.96L943.20 257.75M950.16 254.96L950.69 257.75M943.20 257.75L943.20 259.44M950.69 257.75L950.69 259.44M943.20 259.44L943.74 262.24M950.69 259.44L950.16 262.24M943.74 262.24L944.81 263.92M950.16 262.24L949.09 263.92M944.81 263.92L946.41 264.48M949.09 263.92L947.49 264.48M946.41 264.48L947.49 264.48" fill="none" stroke="#000" stroke-width="1.15" stroke-linecap="round" stroke-linejoin="round" shape-rendering="crispEdges"/>
<path d="M932.50 217.15L940.00 217.15M940.00 217.15L934.64 228.91M946.41 217.15L947.49 217.15M946.41 217.15L944.81 217.71M947.49 217.15L949.09 217.71M944.81 217.71L943.74 219.39M949.09 217.71L950.16 219.39M943.74 219.39L943.20 222.19M950.16 219.39L950.69 222.19M943.20 222.19L943.20 223.87M950.69 222.19L950.69 223.87M943.20 223.87L943.74 226.67M950.69 223.87L950.16 226.67M943.74 226.67L944.81 228.35M950.16 226.67L949.09 228.35M944.81 228.35L946.41 228.91M949.09 228.35L947.49 228.91M946.41 228.91L947.49 228.91" fill="none" stroke="#000" stroke-width="1.15" stroke-linecap="round" stroke-linejoin="round" shape-rendering="crispEdges"/>
<path d="M935.18 181.58L937.32 181.58M935.18 181.58L933.57 182.14M937.32 181.58L938.92 182.14M933.57 182.14L933.04 183.26M938.92 182.14L939.46 183.26M933.04 183.26L933.04 184.38M939.46 183.26L939.46 184.38M933.04 184.38L933.57 185.50M939.46 184.38L938.92 185.50M933.57 185.50L934.64 186.06M938.92 185.50L937.86 186.06M934.64 186.06L936.78 186.62M937.86 186.06L935.72 186.62M935.72 186.62L934.11 187.18M936.78 186.62L938.39 187.18M934.11 187.18L933.04 188.30M938.39 187.18L939.46 188.30M933.04 188.30L932.50 189.42M939.46 188.30L940.00 189.42M932.50 189.42L932.50 191.10M940.00 189.42L940.00 191.10M932.50 191.10L933.04 192.22M940.00 191.10L939.46 192.22M933.04 192.22L933.57 192.78M939.46 192.22L938.92 192.78M933.57 192.78L935.18 193.34M938.92 192.78L937.32 193.34M935.18 193.34L937.32 193.34M946.41 181.58L947.49 181.58M946.41 181.58L944.81 182.14M947.49 181.58L949.09 182.14M944.81 182.14L943.74 183.82M949.09 182.14L950.16 183.82M943.74 183.82L943.20 186.62M950.16 183.82L950.69 186.62M943.20 186.62L943.20 188.30M950.69 186.62L950.69 188.30M943.20 188.30L943.74 191.10M950.69 188.30L950.16 191.10M943.74 191.10L944.81 192.78M950.16 191.10L949.09 192.78M944.81 192.78L946.41 193.34M949.09 192.78L947.49 193.34M946.41 193.34L947.49 193.34" fill="none" stroke="#000" stroke-width="1.15" stroke-linecap="round" stroke-linejoin="round" shape-rendering="crispEdges"/>
<path d="M935.72 146.01L936.25 146.01M935.72 146.01L934.11 146.57M936.25 146.01L937.86 146.57M934.11 146.57L933.04 147.69M937.86 146.57L938.92 147.69M933.04 147.69L932.50 149.37M938.92 147.69L939.46 149.93M932.50 149.37L932.50 149.93M932.50 149.93L933.04 151.61M939.46 149.93L938.92 151.61M939.46 149.93L939.46 152.73M933.04 151.61L934.11 152.73M938.92 151.61L937.86 152.73M934.11 152.73L935.72 153.29M937.86 152.73L936.25 153.29M939.46 152.73L938.92 155.53M935.72 153.29L936.25 153.29M938.92 155.53L937.86 157.21M933.04 156.09L933.57 157.21M933.57 157.21L935.18 157.77M937.86 157.21L936.25 157.77M935.18 157.77L936.25 157.77M946.41 146.01L947.49 146.01M946.41 146.01L944.81 146.57M947.49 146.01L949.09 146.57M944.81 146.57L943.74 148.25M949.09 146.57L950.16 148.25M943.74 148.25L943.20 151.05M950.16 148.25L950.69 151.05M943.20 151.05L943.20 152.73M950.69 151.05L950.69 152.73M943.20 152.73L943.74 155.53M950.69 152.73L950.16 155.53M943.74 155.53L944.81 157.21M950.16 155.53L949.09 157.21M944.81 157.21L946.41 157.77M949.09 157.21L947.49 157.77M946.41 157.77L947.49 157.77" fill="none" stroke="#000" stroke-width="1.15" stroke-linecap="round" stroke-linejoin="round" shape-rendering="crispEdges"/>
<path d="M936.78 110.44L935.18 112.12M936.78 110.44L936.78 122.20M935.18 112.12L934.11 112.68M946.41 110.44L947.49 110.44M946.41 110.44L944.81 111.00M947.49 110.44L949.09 111.00M944.81 111.00L943.74 112.68M949.09 111.00L950.16 112.68M943.74 112.68L943.20 115.48M950.16 112.68L950.69 115.48M943.20 115.48L943.20 117.16M950.69 115.48L950.69 117.16M943.20 117.16L943.74 119.96M950.69 117.16L950.16 119.96M943.74 119.96L944.81 121.64M950.16 119.96L949.09 121.64M944.81 121.64L946.41 122.20M949.09 121.64L947.49 122.20M946.41 122.20L947.49 122.20M957.12 110.44L958.18 110.44M957.12 110.44L955.51 111.00M958.18 110.44L959.79 111.00M955.51 111.00L954.44 112.68M959.79 111.00L960.86 112.68M954.44 112.68L953.90 115.48M960.86 112.68L961.39 115.48M953.90 115.48L953.90 117.16M961.39 115.48L961.39 117.16M953.90 117.16L954.44 119.96M961.39 117.16L960.86 119.96M954.44 119.96L955.51 121.64M960.86 119.96L959.79 121.64M955.51 121.64L957.12 122.20M959.79 121.64L958.18 122.20M957.12 122.20L958.18 122.20" fill="none" stroke="#000" stroke-width="1.15" stroke-linecap="round" stroke-linejoin="round" shape-rendering="crispEdges"/>
</svg>
</body></html>
